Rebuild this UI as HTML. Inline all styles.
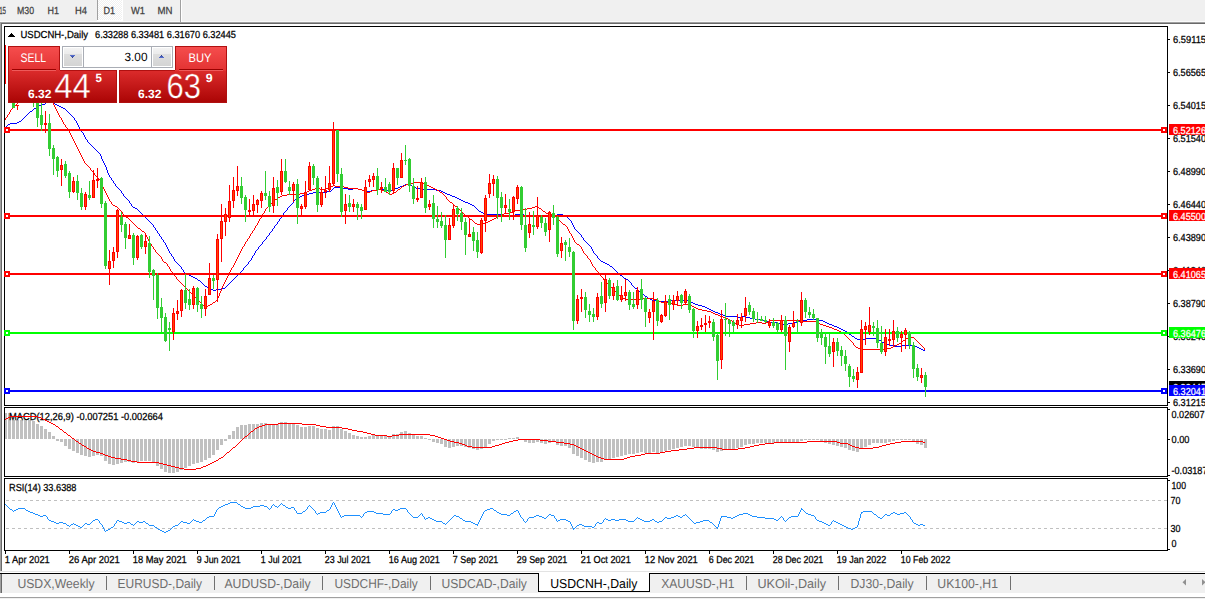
<!DOCTYPE html>
<html><head><meta charset="utf-8"><title>USDCNH-,Daily</title>
<style>html,body{margin:0;padding:0;background:#f0f0f0;overflow:hidden}svg{display:block}text{white-space:pre}</style></head>
<body>
<svg width="1205" height="599" viewBox="0 0 1205 599" font-family='"Liberation Sans", sans-serif' shape-rendering="crispEdges" text-rendering="geometricPrecision">
<rect x="0" y="0" width="1205" height="599" fill="#f0f0f0"/>
<rect x="0" y="21" width="1205" height="1" fill="#fafafa"/>
<rect x="0" y="22" width="1205" height="1" fill="#a0a0a0"/>
<rect x="0" y="23" width="1205" height="1" fill="#696969"/>
<rect x="0" y="24" width="1205" height="548" fill="#ffffff"/>
<rect x="0" y="22" width="1" height="550" fill="#a0a0a0"/>
<rect x="1" y="23" width="1" height="548" fill="#696969"/>
<rect x="0" y="571" width="1205" height="1" fill="#e3e3e3"/>
<rect x="2" y="572" width="1205" height="1" fill="#ffffff"/>
<rect x="0" y="573" width="1205" height="1" fill="#000000"/>
<rect x="0" y="574" width="1205" height="19" fill="#f0f0f0"/>
<rect x="0" y="574" width="1" height="19" fill="#a0a0a0"/>
<rect x="1" y="574" width="1" height="19" fill="#696969"/>
<rect x="0" y="593" width="1205" height="4" fill="#ffffff"/>
<rect x="0" y="597" width="1205" height="1" fill="#a0a0a0"/>
<rect x="0" y="598" width="1205" height="1" fill="#f0f0f0"/>
<text x="-6" y="14" font-size="10.3" fill="#404040" textLength="12" lengthAdjust="spacingAndGlyphs" stroke="#404040" stroke-width="0.25">M15</text>
<text x="17" y="14" font-size="10.3" fill="#404040" textLength="17" lengthAdjust="spacingAndGlyphs" stroke="#404040" stroke-width="0.25">M30</text>
<text x="47.5" y="14" font-size="10.3" fill="#404040" textLength="11.5" lengthAdjust="spacingAndGlyphs" stroke="#404040" stroke-width="0.25">H1</text>
<text x="75" y="14" font-size="10.3" fill="#404040" textLength="12" lengthAdjust="spacingAndGlyphs" stroke="#404040" stroke-width="0.25">H4</text>
<defs><pattern id="ck" x="98" y="0" width="2" height="2" patternUnits="userSpaceOnUse"><rect width="2" height="2" fill="#f0f0f0"/><rect width="1" height="1" fill="#fff"/><rect x="1" y="1" width="1" height="1" fill="#fff"/></pattern></defs>
<rect x="97" y="0" width="1" height="20" fill="#a0a0a0"/>
<rect x="98" y="0" width="24" height="20" fill="url(#ck)"/>
<rect x="122" y="0" width="1" height="21" fill="#ffffff"/>
<rect x="97" y="20" width="26" height="1" fill="#ffffff"/>
<text x="103.5" y="14" font-size="10.3" fill="#404040" textLength="11.5" lengthAdjust="spacingAndGlyphs" stroke="#404040" stroke-width="0.25">D1</text>
<text x="131" y="14" font-size="10.3" fill="#404040" textLength="14" lengthAdjust="spacingAndGlyphs" stroke="#404040" stroke-width="0.25">W1</text>
<text x="157.5" y="14" font-size="10.3" fill="#404040" textLength="15" lengthAdjust="spacingAndGlyphs" stroke="#404040" stroke-width="0.25">MN</text>
<rect x="180" y="0" width="1" height="22" fill="#a0a0a0"/>
<rect x="181" y="0" width="1" height="22" fill="#ffffff"/>
<defs><clipPath id="cm"><rect x="5" y="27" width="1162" height="378"/></clipPath><clipPath id="cd"><rect x="5" y="408" width="1162" height="68"/></clipPath><clipPath id="cr"><rect x="5" y="479" width="1162" height="71"/></clipPath><linearGradient id="gs" x1="0" y1="0" x2="0" y2="1"><stop offset="0" stop-color="#f64e4e"/><stop offset="1" stop-color="#e23232"/></linearGradient><linearGradient id="gp" x1="0" y1="0" x2="0" y2="1"><stop offset="0" stop-color="#dc2c2c"/><stop offset="1" stop-color="#aa0404"/></linearGradient><linearGradient id="gpu" gradientUnits="userSpaceOnUse" x1="0" y1="70" x2="0" y2="103"><stop offset="0" stop-color="#dc2c2c"/><stop offset="1" stop-color="#aa0404"/></linearGradient><linearGradient id="gb" x1="0" y1="0" x2="0" y2="1"><stop offset="0" stop-color="#f3f3f3"/><stop offset="0.33" stop-color="#ebebeb"/><stop offset="0.33" stop-color="#dedede"/><stop offset="1" stop-color="#d4d4d4"/></linearGradient></defs>
<g clip-path="url(#cm)">
<path d="M49 100.5h2M47 101.5h2M51 101.5h1M46 102.5h1M52 102.5h1M45 103.5h1M53 103.5h2M42 104.5h3M55 104.5h2M39 105.5h3M57 105.5h2M37 106.5h2M59 106.5h2M36 107.5h1M61 107.5h2M34 108.5h2M63 108.5h2M33 109.5h1M65 109.5h1M32 110.5h1M66 110.5h1M30 111.5h2M67 111.5h1M29 112.5h1M68 112.5h1M28 113.5h1M69 113.5h1M27 114.5h1M70 114.5h1M26 115.5h1M71 115.5h1M25 116.5h1M72 116.5h1M24 117.5h1M73 117.5h1M23 118.5h1M74 118.5h1M22 119.5h1M74 119.5h1M21 120.5h1M75 120.5h1M19 121.5h2M76 121.5h1M17 122.5h2M76 122.5h1M10 123.5h7M77 123.5h1M8 124.5h2M77 124.5h1M7 125.5h1M78 125.5h1M6 126.5h1M78 126.5h1M79 127.5h1M79 128.5h1M80 129.5h1M81 130.5h1M81 131.5h1M82 132.5h1M83 133.5h1M83 134.5h1M84 135.5h1M84 136.5h1M85 137.5h1M85 138.5h1M86 139.5h1M87 140.5h1M87 141.5h1M88 142.5h1M89 143.5h1M90 144.5h1M91 145.5h1M92 146.5h1M93 147.5h1M94 148.5h1M95 149.5h1M96 150.5h1M97 151.5h1M98 152.5h1M99 153.5h1M100 154.5h1M100 155.5h1M101 156.5h1M101 157.5h1M101 158.5h1M102 159.5h1M102 160.5h1M103 161.5h1M103 162.5h1M104 163.5h1M104 164.5h1M105 165.5h1M105 166.5h1M106 167.5h1M106 168.5h1M106 169.5h1M107 170.5h1M107 171.5h1M107 172.5h1M108 173.5h1M108 174.5h1M109 175.5h1M109 176.5h1M110 177.5h1M111 178.5h1M111 179.5h1M112 180.5h1M113 181.5h1M113 182.5h1M114 183.5h1M115 184.5h1M405 184.5h4M115 185.5h1M403 185.5h2M409 185.5h3M116 186.5h1M400 186.5h3M412 186.5h2M117 187.5h1M334 187.5h9M398 187.5h2M414 187.5h2M118 188.5h1M333 188.5h1M343 188.5h5M353 188.5h5M395 188.5h3M416 188.5h4M119 189.5h1M332 189.5h1M348 189.5h5M358 189.5h4M377 189.5h8M393 189.5h2M420 189.5h16M120 190.5h1M331 190.5h1M362 190.5h4M371 190.5h6M385 190.5h8M436 190.5h5M121 191.5h1M327 191.5h4M366 191.5h5M441 191.5h2M121 192.5h1M313 192.5h14M443 192.5h2M122 193.5h1M309 193.5h4M445 193.5h2M123 194.5h1M305 194.5h4M447 194.5h3M123 195.5h1M302 195.5h3M450 195.5h2M124 196.5h1M300 196.5h2M452 196.5h3M125 197.5h1M298 197.5h2M455 197.5h2M126 198.5h1M296 198.5h2M457 198.5h2M127 199.5h1M295 199.5h1M459 199.5h2M128 200.5h1M294 200.5h1M461 200.5h2M129 201.5h1M293 201.5h1M463 201.5h2M129 202.5h1M293 202.5h1M465 202.5h3M130 203.5h1M292 203.5h1M468 203.5h2M131 204.5h1M291 204.5h1M470 204.5h2M131 205.5h1M290 205.5h1M472 205.5h2M132 206.5h1M289 206.5h1M474 206.5h1M133 207.5h2M288 207.5h1M475 207.5h1M135 208.5h2M287 208.5h1M476 208.5h1M137 209.5h1M287 209.5h1M477 209.5h1M138 210.5h1M286 210.5h1M478 210.5h1M139 211.5h1M285 211.5h1M479 211.5h2M140 212.5h1M284 212.5h1M481 212.5h2M141 213.5h1M283 213.5h1M483 213.5h4M142 214.5h1M283 214.5h1M487 214.5h14M515 214.5h9M557 214.5h6M143 215.5h1M282 215.5h1M501 215.5h14M524 215.5h33M563 215.5h2M144 216.5h1M281 216.5h1M565 216.5h2M145 217.5h1M281 217.5h1M567 217.5h1M146 218.5h1M280 218.5h1M568 218.5h1M147 219.5h1M279 219.5h1M569 219.5h1M148 220.5h1M279 220.5h1M570 220.5h1M149 221.5h1M278 221.5h1M571 221.5h1M150 222.5h1M277 222.5h1M571 222.5h1M151 223.5h1M277 223.5h1M572 223.5h1M152 224.5h1M276 224.5h1M572 224.5h1M153 225.5h1M275 225.5h1M573 225.5h1M153 226.5h1M274 226.5h1M573 226.5h1M154 227.5h1M274 227.5h1M574 227.5h1M155 228.5h1M273 228.5h1M574 228.5h1M155 229.5h1M272 229.5h1M575 229.5h1M156 230.5h1M272 230.5h1M576 230.5h1M157 231.5h1M271 231.5h1M577 231.5h1M157 232.5h1M270 232.5h1M578 232.5h1M158 233.5h1M269 233.5h1M579 233.5h1M159 234.5h1M269 234.5h1M580 234.5h1M159 235.5h1M268 235.5h1M581 235.5h1M160 236.5h1M267 236.5h1M581 236.5h1M161 237.5h1M266 237.5h1M582 237.5h1M161 238.5h1M266 238.5h1M583 238.5h1M162 239.5h1M265 239.5h1M583 239.5h1M163 240.5h1M264 240.5h1M584 240.5h1M163 241.5h1M263 241.5h1M585 241.5h1M164 242.5h1M262 242.5h1M586 242.5h1M165 243.5h1M262 243.5h1M587 243.5h1M165 244.5h1M261 244.5h1M588 244.5h1M166 245.5h1M260 245.5h1M589 245.5h1M166 246.5h1M259 246.5h1M590 246.5h1M167 247.5h1M258 247.5h1M591 247.5h1M167 248.5h1M258 248.5h1M591 248.5h1M168 249.5h1M257 249.5h1M592 249.5h1M168 250.5h1M256 250.5h1M592 250.5h1M169 251.5h1M255 251.5h1M593 251.5h1M169 252.5h1M255 252.5h1M593 252.5h1M170 253.5h1M254 253.5h1M594 253.5h1M171 254.5h1M254 254.5h1M595 254.5h1M171 255.5h1M253 255.5h1M596 255.5h1M172 256.5h1M252 256.5h1M597 256.5h1M173 257.5h1M252 257.5h1M597 257.5h1M173 258.5h1M251 258.5h1M598 258.5h1M174 259.5h1M251 259.5h1M599 259.5h1M174 260.5h1M250 260.5h1M600 260.5h1M175 261.5h1M249 261.5h1M601 261.5h2M176 262.5h1M248 262.5h1M603 262.5h2M177 263.5h1M248 263.5h1M605 263.5h2M178 264.5h1M247 264.5h1M607 264.5h2M179 265.5h1M246 265.5h1M609 265.5h1M180 266.5h1M245 266.5h1M610 266.5h2M181 267.5h1M244 267.5h1M612 267.5h1M181 268.5h1M243 268.5h1M613 268.5h1M182 269.5h1M243 269.5h1M614 269.5h1M183 270.5h1M242 270.5h1M615 270.5h1M183 271.5h1M241 271.5h1M616 271.5h1M184 272.5h1M240 272.5h1M617 272.5h1M185 273.5h2M239 273.5h1M618 273.5h1M187 274.5h2M238 274.5h1M619 274.5h1M189 275.5h2M237 275.5h1M620 275.5h2M191 276.5h2M236 276.5h1M622 276.5h1M193 277.5h2M235 277.5h1M623 277.5h1M195 278.5h2M234 278.5h1M624 278.5h2M197 279.5h1M233 279.5h1M626 279.5h2M198 280.5h2M232 280.5h1M628 280.5h1M200 281.5h1M231 281.5h1M629 281.5h1M201 282.5h1M230 282.5h1M630 282.5h1M202 283.5h1M229 283.5h1M631 283.5h1M203 284.5h1M228 284.5h1M631 284.5h1M204 285.5h1M227 285.5h1M632 285.5h1M205 286.5h2M226 286.5h1M633 286.5h1M207 287.5h2M225 287.5h1M634 287.5h1M209 288.5h2M221 288.5h4M635 288.5h2M211 289.5h2M216 289.5h5M637 289.5h1M213 290.5h3M638 290.5h1M639 291.5h1M640 292.5h2M642 293.5h1M643 294.5h1M644 295.5h1M645 296.5h2M647 297.5h1M648 298.5h2M650 299.5h2M652 300.5h5M670 300.5h18M657 301.5h13M688 301.5h2M690 302.5h3M693 303.5h2M695 304.5h3M698 305.5h4M702 306.5h3M705 307.5h2M707 308.5h2M709 309.5h2M711 310.5h2M713 311.5h2M715 312.5h3M718 313.5h2M720 314.5h3M723 315.5h2M725 316.5h12M742 316.5h4M737 317.5h5M746 317.5h4M750 318.5h5M755 319.5h6M807 319.5h9M761 320.5h4M802 320.5h5M816 320.5h7M765 321.5h5M798 321.5h4M823 321.5h2M770 322.5h7M793 322.5h5M825 322.5h2M777 323.5h6M788 323.5h5M827 323.5h2M783 324.5h5M829 324.5h3M832 325.5h2M834 326.5h3M837 327.5h2M839 328.5h2M841 329.5h2M843 330.5h2M845 331.5h2M847 332.5h1M848 333.5h1M849 334.5h2M851 335.5h1M852 336.5h2M854 337.5h1M855 338.5h2M866 338.5h10M857 339.5h9M876 339.5h3M879 340.5h2M881 341.5h1M882 342.5h2M884 343.5h2M886 344.5h4M890 345.5h5M902 345.5h13M895 346.5h7M915 346.5h2M917 347.5h2M919 348.5h2M921 349.5h2M923 350.5h2" fill="none" stroke="#0000ff" stroke-width="1"/>
<path d="M33 94.5h4M31 95.5h2M37 95.5h5M28 96.5h3M42 96.5h3M26 97.5h2M45 97.5h1M24 98.5h2M46 98.5h2M22 99.5h2M48 99.5h1M21 100.5h1M49 100.5h1M20 101.5h1M50 101.5h2M18 102.5h2M52 102.5h1M17 103.5h1M53 103.5h1M16 104.5h1M53 104.5h1M15 105.5h1M54 105.5h1M14 106.5h1M54 106.5h1M13 107.5h1M55 107.5h1M12 108.5h1M55 108.5h1M11 109.5h1M56 109.5h1M10 110.5h1M56 110.5h1M10 111.5h1M57 111.5h1M9 112.5h1M57 112.5h1M9 113.5h1M58 113.5h1M8 114.5h1M58 114.5h1M7 115.5h1M59 115.5h1M7 116.5h1M59 116.5h1M6 117.5h1M60 117.5h1M5 118.5h1M61 118.5h1M5 119.5h1M61 119.5h1M4 120.5h1M62 120.5h1M62 121.5h1M63 122.5h1M63 123.5h1M64 124.5h1M65 125.5h1M65 126.5h1M66 127.5h1M67 128.5h1M67 129.5h1M68 130.5h1M69 131.5h1M69 132.5h1M70 133.5h1M70 134.5h1M71 135.5h1M71 136.5h1M72 137.5h1M72 138.5h1M73 139.5h1M73 140.5h1M74 141.5h1M74 142.5h1M75 143.5h1M75 144.5h1M76 145.5h1M76 146.5h1M77 147.5h1M77 148.5h1M78 149.5h1M78 150.5h1M79 151.5h1M79 152.5h1M80 153.5h1M80 154.5h1M81 155.5h1M81 156.5h1M82 157.5h1M82 158.5h1M83 159.5h1M83 160.5h1M84 161.5h1M84 162.5h1M85 163.5h1M86 164.5h1M87 165.5h1M88 166.5h1M89 167.5h1M90 168.5h1M90 169.5h1M91 170.5h1M92 171.5h1M93 172.5h1M94 173.5h1M94 174.5h1M95 175.5h1M96 176.5h1M97 177.5h1M98 178.5h1M99 179.5h1M100 180.5h1M100 181.5h1M101 182.5h1M414 182.5h9M101 183.5h1M409 183.5h5M423 183.5h2M102 184.5h1M406 184.5h3M425 184.5h2M102 185.5h1M333 185.5h2M404 185.5h2M427 185.5h2M102 186.5h1M331 186.5h2M335 186.5h9M402 186.5h2M429 186.5h2M103 187.5h1M329 187.5h2M344 187.5h4M401 187.5h1M431 187.5h2M103 188.5h1M315 188.5h5M326 188.5h3M348 188.5h10M400 188.5h1M433 188.5h2M104 189.5h1M312 189.5h3M320 189.5h6M358 189.5h4M377 189.5h5M398 189.5h2M435 189.5h2M104 190.5h1M309 190.5h3M362 190.5h3M372 190.5h5M382 190.5h3M397 190.5h1M437 190.5h2M105 191.5h1M307 191.5h2M365 191.5h2M370 191.5h2M385 191.5h1M396 191.5h1M439 191.5h1M105 192.5h1M305 192.5h2M367 192.5h3M386 192.5h2M394 192.5h2M440 192.5h2M106 193.5h1M300 193.5h5M388 193.5h2M392 193.5h2M442 193.5h1M106 194.5h1M287 194.5h13M390 194.5h2M443 194.5h1M107 195.5h1M282 195.5h5M444 195.5h1M107 196.5h1M280 196.5h2M445 196.5h1M108 197.5h1M278 197.5h2M446 197.5h1M108 198.5h1M277 198.5h1M446 198.5h1M109 199.5h1M275 199.5h2M447 199.5h1M109 200.5h1M274 200.5h1M448 200.5h1M110 201.5h1M273 201.5h1M449 201.5h1M111 202.5h1M272 202.5h1M450 202.5h2M111 203.5h1M271 203.5h1M452 203.5h1M112 204.5h1M270 204.5h1M453 204.5h1M113 205.5h2M269 205.5h1M454 205.5h1M115 206.5h2M268 206.5h1M455 206.5h2M535 206.5h2M117 207.5h1M267 207.5h1M457 207.5h1M532 207.5h3M537 207.5h2M118 208.5h1M266 208.5h1M458 208.5h1M527 208.5h5M539 208.5h2M119 209.5h1M265 209.5h1M459 209.5h1M520 209.5h7M541 209.5h1M120 210.5h1M265 210.5h1M460 210.5h1M515 210.5h5M542 210.5h1M121 211.5h1M264 211.5h1M461 211.5h1M513 211.5h2M543 211.5h2M122 212.5h1M264 212.5h1M462 212.5h1M509 212.5h4M545 212.5h1M122 213.5h1M263 213.5h1M463 213.5h1M504 213.5h5M546 213.5h3M123 214.5h1M262 214.5h1M464 214.5h1M501 214.5h3M549 214.5h3M124 215.5h1M262 215.5h1M465 215.5h2M499 215.5h2M552 215.5h2M125 216.5h1M261 216.5h1M467 216.5h1M497 216.5h2M554 216.5h2M126 217.5h2M261 217.5h1M468 217.5h1M496 217.5h1M556 217.5h1M128 218.5h1M260 218.5h1M469 218.5h1M494 218.5h2M557 218.5h1M129 219.5h1M259 219.5h1M470 219.5h2M492 219.5h2M558 219.5h1M130 220.5h1M259 220.5h1M472 220.5h1M490 220.5h2M559 220.5h1M131 221.5h1M258 221.5h1M473 221.5h1M488 221.5h2M560 221.5h1M132 222.5h1M258 222.5h1M474 222.5h1M485 222.5h3M561 222.5h1M133 223.5h1M257 223.5h1M475 223.5h2M483 223.5h2M562 223.5h1M134 224.5h1M257 224.5h1M477 224.5h6M563 224.5h2M135 225.5h1M256 225.5h1M565 225.5h1M136 226.5h1M255 226.5h1M566 226.5h1M137 227.5h1M255 227.5h1M567 227.5h1M138 228.5h2M254 228.5h1M567 228.5h1M140 229.5h1M254 229.5h1M568 229.5h1M141 230.5h1M253 230.5h1M568 230.5h1M142 231.5h2M252 231.5h1M569 231.5h1M144 232.5h1M252 232.5h1M569 232.5h1M145 233.5h1M251 233.5h1M570 233.5h1M145 234.5h1M250 234.5h1M571 234.5h1M146 235.5h1M250 235.5h1M571 235.5h1M146 236.5h1M249 236.5h1M572 236.5h1M147 237.5h1M249 237.5h1M572 237.5h1M147 238.5h1M248 238.5h1M573 238.5h1M148 239.5h1M247 239.5h1M573 239.5h1M148 240.5h1M247 240.5h1M574 240.5h1M149 241.5h1M246 241.5h1M574 241.5h1M149 242.5h1M245 242.5h1M575 242.5h1M150 243.5h1M245 243.5h1M576 243.5h1M151 244.5h1M244 244.5h1M577 244.5h2M151 245.5h1M244 245.5h1M579 245.5h1M152 246.5h1M243 246.5h1M580 246.5h1M153 247.5h1M242 247.5h1M581 247.5h1M153 248.5h1M242 248.5h1M581 248.5h1M154 249.5h1M241 249.5h1M582 249.5h1M155 250.5h1M241 250.5h1M582 250.5h1M155 251.5h1M240 251.5h1M583 251.5h1M156 252.5h1M240 252.5h1M583 252.5h1M157 253.5h1M239 253.5h1M584 253.5h1M158 254.5h1M239 254.5h1M585 254.5h1M159 255.5h1M238 255.5h1M586 255.5h1M160 256.5h1M238 256.5h1M587 256.5h1M161 257.5h1M237 257.5h1M587 257.5h1M161 258.5h1M237 258.5h1M588 258.5h1M162 259.5h1M236 259.5h1M589 259.5h1M162 260.5h1M236 260.5h1M590 260.5h1M163 261.5h1M235 261.5h1M590 261.5h1M164 262.5h2M235 262.5h1M591 262.5h1M166 263.5h1M234 263.5h1M591 263.5h1M167 264.5h1M234 264.5h1M592 264.5h1M167 265.5h1M233 265.5h1M592 265.5h1M168 266.5h1M233 266.5h1M593 266.5h1M169 267.5h1M232 267.5h1M594 267.5h1M169 268.5h1M231 268.5h1M595 268.5h1M170 269.5h1M231 269.5h1M595 269.5h1M170 270.5h1M230 270.5h1M596 270.5h1M171 271.5h1M230 271.5h1M597 271.5h1M172 272.5h1M229 272.5h1M598 272.5h1M172 273.5h1M229 273.5h1M599 273.5h1M173 274.5h1M228 274.5h1M599 274.5h1M174 275.5h1M228 275.5h1M600 275.5h1M175 276.5h1M227 276.5h1M601 276.5h1M176 277.5h1M227 277.5h1M602 277.5h1M176 278.5h1M226 278.5h1M603 278.5h1M177 279.5h1M226 279.5h1M603 279.5h1M178 280.5h1M225 280.5h1M604 280.5h1M179 281.5h1M225 281.5h1M605 281.5h1M180 282.5h1M224 282.5h1M606 282.5h1M181 283.5h1M224 283.5h1M607 283.5h1M182 284.5h1M223 284.5h1M608 284.5h1M183 285.5h1M223 285.5h1M609 285.5h1M184 286.5h1M222 286.5h1M610 286.5h1M185 287.5h1M222 287.5h1M611 287.5h1M186 288.5h1M221 288.5h1M612 288.5h1M187 289.5h1M221 289.5h1M613 289.5h1M188 290.5h1M221 290.5h1M614 290.5h1M189 291.5h1M220 291.5h1M615 291.5h1M190 292.5h1M220 292.5h1M616 292.5h1M191 293.5h1M219 293.5h1M617 293.5h1M192 294.5h1M219 294.5h1M618 294.5h1M193 295.5h1M219 295.5h1M619 295.5h1M194 296.5h1M218 296.5h1M620 296.5h1M195 297.5h1M218 297.5h1M621 297.5h2M196 298.5h1M217 298.5h1M623 298.5h2M641 298.5h13M197 299.5h1M217 299.5h1M625 299.5h16M654 299.5h3M198 300.5h1M216 300.5h1M657 300.5h2M199 301.5h1M215 301.5h1M659 301.5h2M200 302.5h1M213 302.5h2M661 302.5h7M201 303.5h1M212 303.5h1M668 303.5h4M202 304.5h1M210 304.5h2M672 304.5h5M683 304.5h6M203 305.5h2M208 305.5h2M677 305.5h6M689 305.5h3M205 306.5h3M692 306.5h2M694 307.5h2M696 308.5h2M698 309.5h4M702 310.5h5M707 311.5h4M711 312.5h2M713 313.5h2M715 314.5h3M718 315.5h2M720 316.5h3M723 317.5h2M725 318.5h3M728 319.5h2M730 320.5h2M770 320.5h30M732 321.5h1M768 321.5h2M800 321.5h16M733 322.5h2M756 322.5h6M766 322.5h2M816 322.5h2M735 323.5h1M750 323.5h6M762 323.5h4M818 323.5h2M736 324.5h3M744 324.5h6M820 324.5h3M739 325.5h5M823 325.5h3M826 326.5h3M829 327.5h3M832 328.5h2M834 329.5h3M837 330.5h2M839 331.5h2M841 332.5h1M842 333.5h2M844 334.5h1M845 335.5h1M846 336.5h1M847 337.5h1M910 337.5h4M848 338.5h1M906 338.5h4M914 338.5h1M849 339.5h1M905 339.5h1M915 339.5h1M850 340.5h1M903 340.5h2M916 340.5h1M851 341.5h1M902 341.5h1M917 341.5h1M852 342.5h1M901 342.5h1M918 342.5h1M853 343.5h1M899 343.5h2M919 343.5h1M853 344.5h1M897 344.5h2M920 344.5h1M854 345.5h1M895 345.5h2M921 345.5h1M855 346.5h1M893 346.5h2M922 346.5h1M856 347.5h2M891 347.5h2M923 347.5h1M858 348.5h4M887 348.5h4M924 348.5h1M862 349.5h25M924 349.5h1" fill="none" stroke="#ff0000" stroke-width="1"/>
<rect x="5" y="129" width="1162" height="2" fill="#ff0000"/>
<rect x="5" y="215" width="1162" height="2" fill="#ff0000"/>
<rect x="5" y="273" width="1162" height="2" fill="#ff0000"/>
<rect x="5" y="332" width="1162" height="2" fill="#00ff00"/>
<rect x="5" y="390" width="1162" height="2" fill="#0000ff"/>
<rect x="5" y="45" width="1" height="39" fill="#ff0000"/>
<rect x="9" y="60" width="1" height="35" fill="#32cd32"/>
<rect x="8" y="65" width="3" height="25" fill="#32cd32"/>
<rect x="13" y="88" width="1" height="20" fill="#32cd32"/>
<rect x="12" y="92" width="3" height="16" fill="#32cd32"/>
<rect x="17" y="105" width="1" height="5" fill="#ff0000"/>
<rect x="16" y="105" width="3" height="1" fill="#ff0000"/>
<rect x="21" y="70" width="1" height="30" fill="#ff0000"/>
<rect x="20" y="75" width="3" height="20" fill="#ff0000"/>
<rect x="21" y="76" width="1" height="18" fill="#ff4500"/>
<rect x="25" y="70" width="1" height="30" fill="#32cd32"/>
<rect x="24" y="75" width="3" height="20" fill="#32cd32"/>
<rect x="29" y="70" width="1" height="30" fill="#ff0000"/>
<rect x="28" y="75" width="3" height="20" fill="#ff0000"/>
<rect x="29" y="76" width="1" height="18" fill="#ff4500"/>
<rect x="33" y="85" width="1" height="22" fill="#32cd32"/>
<rect x="32" y="88" width="3" height="12" fill="#32cd32"/>
<rect x="37" y="85" width="1" height="42" fill="#32cd32"/>
<rect x="36" y="90" width="3" height="28" fill="#32cd32"/>
<rect x="41" y="100" width="1" height="31" fill="#32cd32"/>
<rect x="40" y="115" width="3" height="10" fill="#32cd32"/>
<rect x="45" y="111" width="1" height="22" fill="#ff0000"/>
<rect x="44" y="123" width="3" height="2" fill="#ff0000"/>
<rect x="49" y="114" width="1" height="42" fill="#32cd32"/>
<rect x="48" y="123" width="3" height="26" fill="#32cd32"/>
<rect x="53" y="145" width="1" height="30" fill="#32cd32"/>
<rect x="52" y="148" width="3" height="11" fill="#32cd32"/>
<rect x="57" y="156" width="1" height="21" fill="#32cd32"/>
<rect x="56" y="157" width="3" height="14" fill="#32cd32"/>
<rect x="61" y="159" width="1" height="27" fill="#ff0000"/>
<rect x="60" y="165" width="3" height="5" fill="#ff0000"/>
<rect x="61" y="166" width="1" height="3" fill="#ff4500"/>
<rect x="65" y="161" width="1" height="17" fill="#32cd32"/>
<rect x="64" y="164" width="3" height="12" fill="#32cd32"/>
<rect x="69" y="171" width="1" height="27" fill="#32cd32"/>
<rect x="68" y="173" width="3" height="19" fill="#32cd32"/>
<rect x="73" y="177" width="1" height="16" fill="#ff0000"/>
<rect x="72" y="181" width="3" height="11" fill="#ff0000"/>
<rect x="73" y="182" width="1" height="9" fill="#ff4500"/>
<rect x="77" y="175" width="1" height="25" fill="#32cd32"/>
<rect x="76" y="181" width="3" height="12" fill="#32cd32"/>
<rect x="81" y="188" width="1" height="22" fill="#32cd32"/>
<rect x="80" y="193" width="3" height="14" fill="#32cd32"/>
<rect x="85" y="192" width="1" height="18" fill="#ff0000"/>
<rect x="84" y="194" width="3" height="13" fill="#ff0000"/>
<rect x="85" y="195" width="1" height="11" fill="#ff4500"/>
<rect x="89" y="181" width="1" height="19" fill="#32cd32"/>
<rect x="88" y="195" width="3" height="3" fill="#32cd32"/>
<rect x="93" y="170" width="1" height="28" fill="#ff0000"/>
<rect x="92" y="180" width="3" height="18" fill="#ff0000"/>
<rect x="93" y="181" width="1" height="16" fill="#ff4500"/>
<rect x="97" y="168" width="1" height="20" fill="#ff0000"/>
<rect x="96" y="179" width="3" height="2" fill="#ff0000"/>
<rect x="101" y="177" width="1" height="31" fill="#32cd32"/>
<rect x="100" y="178" width="3" height="26" fill="#32cd32"/>
<rect x="105" y="201" width="1" height="68" fill="#32cd32"/>
<rect x="104" y="203" width="3" height="63" fill="#32cd32"/>
<rect x="109" y="250" width="1" height="35" fill="#ff0000"/>
<rect x="108" y="261" width="3" height="8" fill="#ff0000"/>
<rect x="109" y="262" width="1" height="6" fill="#ff4500"/>
<rect x="113" y="247" width="1" height="21" fill="#ff0000"/>
<rect x="112" y="252" width="3" height="9" fill="#ff0000"/>
<rect x="113" y="253" width="1" height="7" fill="#ff4500"/>
<rect x="117" y="209" width="1" height="49" fill="#ff0000"/>
<rect x="116" y="210" width="3" height="42" fill="#ff0000"/>
<rect x="117" y="211" width="1" height="40" fill="#ff4500"/>
<rect x="121" y="212" width="1" height="20" fill="#32cd32"/>
<rect x="120" y="217" width="3" height="8" fill="#32cd32"/>
<rect x="125" y="222" width="1" height="27" fill="#32cd32"/>
<rect x="124" y="224" width="3" height="14" fill="#32cd32"/>
<rect x="129" y="224" width="1" height="15" fill="#ff0000"/>
<rect x="128" y="235" width="3" height="4" fill="#ff0000"/>
<rect x="129" y="236" width="1" height="2" fill="#ff4500"/>
<rect x="133" y="233" width="1" height="32" fill="#32cd32"/>
<rect x="132" y="235" width="3" height="23" fill="#32cd32"/>
<rect x="137" y="235" width="1" height="25" fill="#ff0000"/>
<rect x="136" y="236" width="3" height="22" fill="#ff0000"/>
<rect x="137" y="237" width="1" height="20" fill="#ff4500"/>
<rect x="141" y="234" width="1" height="15" fill="#32cd32"/>
<rect x="140" y="235" width="3" height="12" fill="#32cd32"/>
<rect x="145" y="235" width="1" height="19" fill="#ff0000"/>
<rect x="144" y="241" width="3" height="6" fill="#ff0000"/>
<rect x="145" y="242" width="1" height="4" fill="#ff4500"/>
<rect x="149" y="236" width="1" height="42" fill="#32cd32"/>
<rect x="148" y="243" width="3" height="29" fill="#32cd32"/>
<rect x="153" y="269" width="1" height="31" fill="#32cd32"/>
<rect x="152" y="270" width="3" height="6" fill="#32cd32"/>
<rect x="157" y="273" width="1" height="46" fill="#32cd32"/>
<rect x="156" y="275" width="3" height="33" fill="#32cd32"/>
<rect x="161" y="298" width="1" height="34" fill="#32cd32"/>
<rect x="160" y="307" width="3" height="11" fill="#32cd32"/>
<rect x="165" y="313" width="1" height="29" fill="#32cd32"/>
<rect x="164" y="317" width="3" height="24" fill="#32cd32"/>
<rect x="169" y="322" width="1" height="29" fill="#32cd32"/>
<rect x="168" y="328" width="3" height="2" fill="#32cd32"/>
<rect x="173" y="308" width="1" height="32" fill="#ff0000"/>
<rect x="172" y="313" width="3" height="19" fill="#ff0000"/>
<rect x="173" y="314" width="1" height="17" fill="#ff4500"/>
<rect x="177" y="300" width="1" height="20" fill="#ff0000"/>
<rect x="176" y="311" width="3" height="3" fill="#ff0000"/>
<rect x="177" y="312" width="1" height="1" fill="#ff4500"/>
<rect x="181" y="289" width="1" height="28" fill="#ff0000"/>
<rect x="180" y="290" width="3" height="21" fill="#ff0000"/>
<rect x="181" y="291" width="1" height="19" fill="#ff4500"/>
<rect x="185" y="274" width="1" height="35" fill="#32cd32"/>
<rect x="184" y="290" width="3" height="13" fill="#32cd32"/>
<rect x="189" y="289" width="1" height="21" fill="#32cd32"/>
<rect x="188" y="299" width="3" height="6" fill="#32cd32"/>
<rect x="193" y="286" width="1" height="23" fill="#ff0000"/>
<rect x="192" y="288" width="3" height="17" fill="#ff0000"/>
<rect x="193" y="289" width="1" height="15" fill="#ff4500"/>
<rect x="197" y="287" width="1" height="25" fill="#32cd32"/>
<rect x="196" y="288" width="3" height="17" fill="#32cd32"/>
<rect x="201" y="296" width="1" height="22" fill="#32cd32"/>
<rect x="200" y="304" width="3" height="5" fill="#32cd32"/>
<rect x="205" y="289" width="1" height="27" fill="#ff0000"/>
<rect x="204" y="296" width="3" height="13" fill="#ff0000"/>
<rect x="205" y="297" width="1" height="11" fill="#ff4500"/>
<rect x="209" y="263" width="1" height="32" fill="#ff0000"/>
<rect x="208" y="278" width="3" height="17" fill="#ff0000"/>
<rect x="209" y="279" width="1" height="15" fill="#ff4500"/>
<rect x="213" y="275" width="1" height="14" fill="#32cd32"/>
<rect x="212" y="278" width="3" height="3" fill="#32cd32"/>
<rect x="217" y="234" width="1" height="68" fill="#ff0000"/>
<rect x="216" y="239" width="3" height="41" fill="#ff0000"/>
<rect x="217" y="240" width="1" height="39" fill="#ff4500"/>
<rect x="221" y="204" width="1" height="58" fill="#ff0000"/>
<rect x="220" y="221" width="3" height="18" fill="#ff0000"/>
<rect x="221" y="222" width="1" height="16" fill="#ff4500"/>
<rect x="225" y="208" width="1" height="28" fill="#ff0000"/>
<rect x="224" y="214" width="3" height="8" fill="#ff0000"/>
<rect x="225" y="215" width="1" height="6" fill="#ff4500"/>
<rect x="229" y="185" width="1" height="37" fill="#ff0000"/>
<rect x="228" y="201" width="3" height="17" fill="#ff0000"/>
<rect x="229" y="202" width="1" height="15" fill="#ff4500"/>
<rect x="233" y="177" width="1" height="31" fill="#ff0000"/>
<rect x="232" y="190" width="3" height="11" fill="#ff0000"/>
<rect x="233" y="191" width="1" height="9" fill="#ff4500"/>
<rect x="237" y="166" width="1" height="30" fill="#ff0000"/>
<rect x="236" y="186" width="3" height="5" fill="#ff0000"/>
<rect x="237" y="187" width="1" height="3" fill="#ff4500"/>
<rect x="241" y="177" width="1" height="27" fill="#32cd32"/>
<rect x="240" y="186" width="3" height="12" fill="#32cd32"/>
<rect x="245" y="195" width="1" height="27" fill="#32cd32"/>
<rect x="244" y="197" width="3" height="13" fill="#32cd32"/>
<rect x="249" y="199" width="1" height="16" fill="#ff0000"/>
<rect x="248" y="210" width="3" height="2" fill="#ff0000"/>
<rect x="253" y="195" width="1" height="20" fill="#ff0000"/>
<rect x="252" y="204" width="3" height="7" fill="#ff0000"/>
<rect x="253" y="205" width="1" height="5" fill="#ff4500"/>
<rect x="257" y="199" width="1" height="14" fill="#ff0000"/>
<rect x="256" y="200" width="3" height="5" fill="#ff0000"/>
<rect x="257" y="201" width="1" height="3" fill="#ff4500"/>
<rect x="261" y="191" width="1" height="17" fill="#ff0000"/>
<rect x="260" y="193" width="3" height="8" fill="#ff0000"/>
<rect x="261" y="194" width="1" height="6" fill="#ff4500"/>
<rect x="265" y="171" width="1" height="29" fill="#32cd32"/>
<rect x="264" y="193" width="3" height="3" fill="#32cd32"/>
<rect x="269" y="191" width="1" height="21" fill="#32cd32"/>
<rect x="268" y="196" width="3" height="11" fill="#32cd32"/>
<rect x="273" y="177" width="1" height="36" fill="#ff0000"/>
<rect x="272" y="188" width="3" height="18" fill="#ff0000"/>
<rect x="273" y="189" width="1" height="16" fill="#ff4500"/>
<rect x="277" y="180" width="1" height="26" fill="#32cd32"/>
<rect x="276" y="187" width="3" height="6" fill="#32cd32"/>
<rect x="281" y="159" width="1" height="36" fill="#ff0000"/>
<rect x="280" y="171" width="3" height="21" fill="#ff0000"/>
<rect x="281" y="172" width="1" height="19" fill="#ff4500"/>
<rect x="285" y="159" width="1" height="24" fill="#32cd32"/>
<rect x="284" y="171" width="3" height="11" fill="#32cd32"/>
<rect x="289" y="181" width="1" height="14" fill="#32cd32"/>
<rect x="288" y="187" width="3" height="4" fill="#32cd32"/>
<rect x="293" y="182" width="1" height="20" fill="#ff0000"/>
<rect x="292" y="184" width="3" height="7" fill="#ff0000"/>
<rect x="293" y="185" width="1" height="5" fill="#ff4500"/>
<rect x="297" y="179" width="1" height="45" fill="#32cd32"/>
<rect x="296" y="184" width="3" height="24" fill="#32cd32"/>
<rect x="301" y="204" width="1" height="11" fill="#ff0000"/>
<rect x="300" y="206" width="3" height="3" fill="#ff0000"/>
<rect x="301" y="207" width="1" height="1" fill="#ff4500"/>
<rect x="305" y="181" width="1" height="28" fill="#ff0000"/>
<rect x="304" y="192" width="3" height="15" fill="#ff0000"/>
<rect x="305" y="193" width="1" height="13" fill="#ff4500"/>
<rect x="309" y="162" width="1" height="29" fill="#ff0000"/>
<rect x="308" y="166" width="3" height="24" fill="#ff0000"/>
<rect x="309" y="167" width="1" height="22" fill="#ff4500"/>
<rect x="313" y="164" width="1" height="21" fill="#32cd32"/>
<rect x="312" y="166" width="3" height="12" fill="#32cd32"/>
<rect x="317" y="176" width="1" height="36" fill="#32cd32"/>
<rect x="316" y="178" width="3" height="27" fill="#32cd32"/>
<rect x="321" y="187" width="1" height="20" fill="#ff0000"/>
<rect x="320" y="192" width="3" height="13" fill="#ff0000"/>
<rect x="321" y="193" width="1" height="11" fill="#ff4500"/>
<rect x="325" y="176" width="1" height="22" fill="#ff0000"/>
<rect x="324" y="190" width="3" height="2" fill="#ff0000"/>
<rect x="329" y="166" width="1" height="26" fill="#ff0000"/>
<rect x="328" y="183" width="3" height="7" fill="#ff0000"/>
<rect x="329" y="184" width="1" height="5" fill="#ff4500"/>
<rect x="333" y="122" width="1" height="63" fill="#ff0000"/>
<rect x="332" y="130" width="3" height="54" fill="#ff0000"/>
<rect x="333" y="131" width="1" height="52" fill="#ff4500"/>
<rect x="337" y="130" width="1" height="52" fill="#32cd32"/>
<rect x="336" y="130" width="3" height="44" fill="#32cd32"/>
<rect x="341" y="168" width="1" height="49" fill="#32cd32"/>
<rect x="340" y="174" width="3" height="38" fill="#32cd32"/>
<rect x="345" y="194" width="1" height="30" fill="#ff0000"/>
<rect x="344" y="204" width="3" height="7" fill="#ff0000"/>
<rect x="345" y="205" width="1" height="5" fill="#ff4500"/>
<rect x="349" y="195" width="1" height="17" fill="#32cd32"/>
<rect x="348" y="203" width="3" height="4" fill="#32cd32"/>
<rect x="353" y="199" width="1" height="13" fill="#ff0000"/>
<rect x="352" y="204" width="3" height="3" fill="#ff0000"/>
<rect x="353" y="205" width="1" height="1" fill="#ff4500"/>
<rect x="357" y="202" width="1" height="18" fill="#32cd32"/>
<rect x="356" y="204" width="3" height="4" fill="#32cd32"/>
<rect x="361" y="204" width="1" height="15" fill="#32cd32"/>
<rect x="360" y="207" width="3" height="4" fill="#32cd32"/>
<rect x="365" y="180" width="1" height="30" fill="#ff0000"/>
<rect x="364" y="187" width="3" height="23" fill="#ff0000"/>
<rect x="365" y="188" width="1" height="21" fill="#ff4500"/>
<rect x="369" y="175" width="1" height="12" fill="#ff0000"/>
<rect x="368" y="179" width="3" height="3" fill="#ff0000"/>
<rect x="369" y="180" width="1" height="1" fill="#ff4500"/>
<rect x="373" y="173" width="1" height="14" fill="#ff0000"/>
<rect x="372" y="176" width="3" height="4" fill="#ff0000"/>
<rect x="373" y="177" width="1" height="2" fill="#ff4500"/>
<rect x="377" y="168" width="1" height="27" fill="#32cd32"/>
<rect x="376" y="176" width="3" height="14" fill="#32cd32"/>
<rect x="381" y="182" width="1" height="11" fill="#ff0000"/>
<rect x="380" y="187" width="3" height="2" fill="#ff0000"/>
<rect x="385" y="178" width="1" height="14" fill="#32cd32"/>
<rect x="384" y="187" width="3" height="5" fill="#32cd32"/>
<rect x="389" y="182" width="1" height="13" fill="#32cd32"/>
<rect x="388" y="184" width="3" height="8" fill="#32cd32"/>
<rect x="393" y="163" width="1" height="31" fill="#ff0000"/>
<rect x="392" y="168" width="3" height="23" fill="#ff0000"/>
<rect x="393" y="169" width="1" height="21" fill="#ff4500"/>
<rect x="397" y="168" width="1" height="17" fill="#32cd32"/>
<rect x="396" y="168" width="3" height="10" fill="#32cd32"/>
<rect x="401" y="153" width="1" height="25" fill="#ff0000"/>
<rect x="400" y="160" width="3" height="18" fill="#ff0000"/>
<rect x="401" y="161" width="1" height="16" fill="#ff4500"/>
<rect x="405" y="145" width="1" height="20" fill="#32cd32"/>
<rect x="404" y="160" width="3" height="1" fill="#32cd32"/>
<rect x="409" y="158" width="1" height="34" fill="#32cd32"/>
<rect x="408" y="159" width="3" height="27" fill="#32cd32"/>
<rect x="413" y="178" width="1" height="26" fill="#32cd32"/>
<rect x="412" y="186" width="3" height="13" fill="#32cd32"/>
<rect x="417" y="186" width="1" height="16" fill="#ff0000"/>
<rect x="416" y="198" width="3" height="2" fill="#ff0000"/>
<rect x="421" y="178" width="1" height="20" fill="#ff0000"/>
<rect x="420" y="182" width="3" height="16" fill="#ff0000"/>
<rect x="421" y="183" width="1" height="14" fill="#ff4500"/>
<rect x="425" y="177" width="1" height="36" fill="#32cd32"/>
<rect x="424" y="182" width="3" height="26" fill="#32cd32"/>
<rect x="429" y="200" width="1" height="10" fill="#ff0000"/>
<rect x="428" y="204" width="3" height="3" fill="#ff0000"/>
<rect x="429" y="205" width="1" height="1" fill="#ff4500"/>
<rect x="433" y="195" width="1" height="33" fill="#32cd32"/>
<rect x="432" y="203" width="3" height="16" fill="#32cd32"/>
<rect x="437" y="206" width="1" height="22" fill="#32cd32"/>
<rect x="436" y="219" width="3" height="3" fill="#32cd32"/>
<rect x="441" y="212" width="1" height="16" fill="#32cd32"/>
<rect x="440" y="221" width="3" height="5" fill="#32cd32"/>
<rect x="445" y="215" width="1" height="43" fill="#32cd32"/>
<rect x="444" y="225" width="3" height="15" fill="#32cd32"/>
<rect x="449" y="218" width="1" height="22" fill="#ff0000"/>
<rect x="448" y="225" width="3" height="15" fill="#ff0000"/>
<rect x="449" y="226" width="1" height="13" fill="#ff4500"/>
<rect x="453" y="205" width="1" height="23" fill="#ff0000"/>
<rect x="452" y="209" width="3" height="17" fill="#ff0000"/>
<rect x="453" y="210" width="1" height="15" fill="#ff4500"/>
<rect x="457" y="206" width="1" height="15" fill="#32cd32"/>
<rect x="456" y="208" width="3" height="6" fill="#32cd32"/>
<rect x="461" y="208" width="1" height="22" fill="#32cd32"/>
<rect x="460" y="213" width="3" height="9" fill="#32cd32"/>
<rect x="465" y="218" width="1" height="37" fill="#32cd32"/>
<rect x="464" y="222" width="3" height="13" fill="#32cd32"/>
<rect x="469" y="218" width="1" height="19" fill="#ff0000"/>
<rect x="468" y="234" width="3" height="3" fill="#ff0000"/>
<rect x="469" y="235" width="1" height="1" fill="#ff4500"/>
<rect x="473" y="227" width="1" height="24" fill="#32cd32"/>
<rect x="472" y="232" width="3" height="9" fill="#32cd32"/>
<rect x="477" y="232" width="1" height="26" fill="#32cd32"/>
<rect x="476" y="240" width="3" height="12" fill="#32cd32"/>
<rect x="481" y="218" width="1" height="36" fill="#ff0000"/>
<rect x="480" y="220" width="3" height="33" fill="#ff0000"/>
<rect x="481" y="221" width="1" height="31" fill="#ff4500"/>
<rect x="485" y="195" width="1" height="37" fill="#ff0000"/>
<rect x="484" y="198" width="3" height="23" fill="#ff0000"/>
<rect x="485" y="199" width="1" height="21" fill="#ff4500"/>
<rect x="489" y="174" width="1" height="24" fill="#ff0000"/>
<rect x="488" y="183" width="3" height="11" fill="#ff0000"/>
<rect x="489" y="184" width="1" height="9" fill="#ff4500"/>
<rect x="493" y="175" width="1" height="21" fill="#ff0000"/>
<rect x="492" y="179" width="3" height="5" fill="#ff0000"/>
<rect x="493" y="180" width="1" height="3" fill="#ff4500"/>
<rect x="497" y="176" width="1" height="43" fill="#32cd32"/>
<rect x="496" y="179" width="3" height="19" fill="#32cd32"/>
<rect x="501" y="192" width="1" height="30" fill="#32cd32"/>
<rect x="500" y="197" width="3" height="11" fill="#32cd32"/>
<rect x="505" y="194" width="1" height="20" fill="#ff0000"/>
<rect x="504" y="205" width="3" height="3" fill="#ff0000"/>
<rect x="505" y="206" width="1" height="1" fill="#ff4500"/>
<rect x="509" y="199" width="1" height="21" fill="#32cd32"/>
<rect x="508" y="209" width="3" height="3" fill="#32cd32"/>
<rect x="513" y="196" width="1" height="24" fill="#ff0000"/>
<rect x="512" y="197" width="3" height="15" fill="#ff0000"/>
<rect x="513" y="198" width="1" height="13" fill="#ff4500"/>
<rect x="517" y="185" width="1" height="19" fill="#ff0000"/>
<rect x="516" y="187" width="3" height="12" fill="#ff0000"/>
<rect x="517" y="188" width="1" height="10" fill="#ff4500"/>
<rect x="521" y="186" width="1" height="44" fill="#32cd32"/>
<rect x="520" y="187" width="3" height="38" fill="#32cd32"/>
<rect x="525" y="208" width="1" height="44" fill="#32cd32"/>
<rect x="524" y="225" width="3" height="23" fill="#32cd32"/>
<rect x="529" y="212" width="1" height="26" fill="#ff0000"/>
<rect x="528" y="224" width="3" height="9" fill="#ff0000"/>
<rect x="529" y="225" width="1" height="7" fill="#ff4500"/>
<rect x="533" y="211" width="1" height="24" fill="#32cd32"/>
<rect x="532" y="225" width="3" height="2" fill="#32cd32"/>
<rect x="537" y="197" width="1" height="32" fill="#ff0000"/>
<rect x="536" y="215" width="3" height="12" fill="#ff0000"/>
<rect x="537" y="216" width="1" height="10" fill="#ff4500"/>
<rect x="541" y="215" width="1" height="13" fill="#32cd32"/>
<rect x="540" y="217" width="3" height="6" fill="#32cd32"/>
<rect x="545" y="218" width="1" height="18" fill="#32cd32"/>
<rect x="544" y="223" width="3" height="9" fill="#32cd32"/>
<rect x="549" y="211" width="1" height="31" fill="#ff0000"/>
<rect x="548" y="212" width="3" height="18" fill="#ff0000"/>
<rect x="549" y="213" width="1" height="16" fill="#ff4500"/>
<rect x="553" y="205" width="1" height="20" fill="#32cd32"/>
<rect x="552" y="213" width="3" height="5" fill="#32cd32"/>
<rect x="557" y="216" width="1" height="41" fill="#32cd32"/>
<rect x="556" y="217" width="3" height="37" fill="#32cd32"/>
<rect x="561" y="237" width="1" height="21" fill="#ff0000"/>
<rect x="560" y="243" width="3" height="8" fill="#ff0000"/>
<rect x="561" y="244" width="1" height="6" fill="#ff4500"/>
<rect x="565" y="240" width="1" height="21" fill="#32cd32"/>
<rect x="564" y="242" width="3" height="3" fill="#32cd32"/>
<rect x="569" y="238" width="1" height="19" fill="#32cd32"/>
<rect x="568" y="247" width="3" height="5" fill="#32cd32"/>
<rect x="573" y="251" width="1" height="79" fill="#32cd32"/>
<rect x="572" y="252" width="3" height="69" fill="#32cd32"/>
<rect x="577" y="295" width="1" height="29" fill="#ff0000"/>
<rect x="576" y="299" width="3" height="22" fill="#ff0000"/>
<rect x="577" y="300" width="1" height="20" fill="#ff4500"/>
<rect x="581" y="289" width="1" height="23" fill="#ff0000"/>
<rect x="580" y="297" width="3" height="2" fill="#ff0000"/>
<rect x="585" y="292" width="1" height="26" fill="#32cd32"/>
<rect x="584" y="297" width="3" height="13" fill="#32cd32"/>
<rect x="589" y="304" width="1" height="18" fill="#32cd32"/>
<rect x="588" y="311" width="3" height="4" fill="#32cd32"/>
<rect x="593" y="308" width="1" height="14" fill="#32cd32"/>
<rect x="592" y="314" width="3" height="3" fill="#32cd32"/>
<rect x="597" y="293" width="1" height="27" fill="#ff0000"/>
<rect x="596" y="297" width="3" height="20" fill="#ff0000"/>
<rect x="597" y="298" width="1" height="18" fill="#ff4500"/>
<rect x="601" y="282" width="1" height="26" fill="#32cd32"/>
<rect x="600" y="296" width="3" height="8" fill="#32cd32"/>
<rect x="605" y="274" width="1" height="38" fill="#ff0000"/>
<rect x="604" y="279" width="3" height="24" fill="#ff0000"/>
<rect x="605" y="280" width="1" height="22" fill="#ff4500"/>
<rect x="609" y="278" width="1" height="21" fill="#32cd32"/>
<rect x="608" y="280" width="3" height="16" fill="#32cd32"/>
<rect x="613" y="283" width="1" height="17" fill="#ff0000"/>
<rect x="612" y="287" width="3" height="9" fill="#ff0000"/>
<rect x="613" y="288" width="1" height="7" fill="#ff4500"/>
<rect x="617" y="280" width="1" height="21" fill="#32cd32"/>
<rect x="616" y="286" width="3" height="14" fill="#32cd32"/>
<rect x="621" y="286" width="1" height="16" fill="#ff0000"/>
<rect x="620" y="295" width="3" height="5" fill="#ff0000"/>
<rect x="621" y="296" width="1" height="3" fill="#ff4500"/>
<rect x="625" y="279" width="1" height="22" fill="#ff0000"/>
<rect x="624" y="292" width="3" height="4" fill="#ff0000"/>
<rect x="625" y="293" width="1" height="2" fill="#ff4500"/>
<rect x="629" y="290" width="1" height="20" fill="#32cd32"/>
<rect x="628" y="292" width="3" height="13" fill="#32cd32"/>
<rect x="633" y="292" width="1" height="17" fill="#32cd32"/>
<rect x="632" y="304" width="3" height="3" fill="#32cd32"/>
<rect x="637" y="287" width="1" height="22" fill="#ff0000"/>
<rect x="636" y="290" width="3" height="15" fill="#ff0000"/>
<rect x="637" y="291" width="1" height="13" fill="#ff4500"/>
<rect x="641" y="279" width="1" height="30" fill="#32cd32"/>
<rect x="640" y="289" width="3" height="11" fill="#32cd32"/>
<rect x="645" y="297" width="1" height="30" fill="#32cd32"/>
<rect x="644" y="298" width="3" height="14" fill="#32cd32"/>
<rect x="649" y="309" width="1" height="14" fill="#ff0000"/>
<rect x="648" y="312" width="3" height="6" fill="#ff0000"/>
<rect x="649" y="313" width="1" height="4" fill="#ff4500"/>
<rect x="653" y="292" width="1" height="48" fill="#ff0000"/>
<rect x="652" y="301" width="3" height="11" fill="#ff0000"/>
<rect x="653" y="302" width="1" height="9" fill="#ff4500"/>
<rect x="657" y="298" width="1" height="28" fill="#32cd32"/>
<rect x="656" y="300" width="3" height="21" fill="#32cd32"/>
<rect x="661" y="314" width="1" height="9" fill="#ff0000"/>
<rect x="660" y="315" width="3" height="7" fill="#ff0000"/>
<rect x="661" y="316" width="1" height="5" fill="#ff4500"/>
<rect x="665" y="295" width="1" height="22" fill="#ff0000"/>
<rect x="664" y="301" width="3" height="15" fill="#ff0000"/>
<rect x="665" y="302" width="1" height="13" fill="#ff4500"/>
<rect x="669" y="295" width="1" height="25" fill="#32cd32"/>
<rect x="668" y="299" width="3" height="6" fill="#32cd32"/>
<rect x="673" y="295" width="1" height="15" fill="#ff0000"/>
<rect x="672" y="300" width="3" height="5" fill="#ff0000"/>
<rect x="673" y="301" width="1" height="3" fill="#ff4500"/>
<rect x="677" y="291" width="1" height="15" fill="#ff0000"/>
<rect x="676" y="296" width="3" height="5" fill="#ff0000"/>
<rect x="677" y="297" width="1" height="3" fill="#ff4500"/>
<rect x="681" y="294" width="1" height="15" fill="#32cd32"/>
<rect x="680" y="295" width="3" height="8" fill="#32cd32"/>
<rect x="685" y="289" width="1" height="16" fill="#ff0000"/>
<rect x="684" y="291" width="3" height="12" fill="#ff0000"/>
<rect x="685" y="292" width="1" height="10" fill="#ff4500"/>
<rect x="689" y="294" width="1" height="19" fill="#32cd32"/>
<rect x="688" y="296" width="3" height="14" fill="#32cd32"/>
<rect x="693" y="308" width="1" height="30" fill="#32cd32"/>
<rect x="692" y="309" width="3" height="22" fill="#32cd32"/>
<rect x="697" y="321" width="1" height="17" fill="#ff0000"/>
<rect x="696" y="326" width="3" height="5" fill="#ff0000"/>
<rect x="697" y="327" width="1" height="3" fill="#ff4500"/>
<rect x="701" y="318" width="1" height="12" fill="#ff0000"/>
<rect x="700" y="325" width="3" height="2" fill="#ff0000"/>
<rect x="705" y="315" width="1" height="17" fill="#ff0000"/>
<rect x="704" y="323" width="3" height="2" fill="#ff0000"/>
<rect x="709" y="316" width="1" height="12" fill="#ff0000"/>
<rect x="708" y="321" width="3" height="2" fill="#ff0000"/>
<rect x="713" y="319" width="1" height="22" fill="#32cd32"/>
<rect x="712" y="322" width="3" height="15" fill="#32cd32"/>
<rect x="717" y="333" width="1" height="47" fill="#32cd32"/>
<rect x="716" y="335" width="3" height="26" fill="#32cd32"/>
<rect x="721" y="310" width="1" height="59" fill="#ff0000"/>
<rect x="720" y="319" width="3" height="41" fill="#ff0000"/>
<rect x="721" y="320" width="1" height="39" fill="#ff4500"/>
<rect x="725" y="303" width="1" height="33" fill="#32cd32"/>
<rect x="724" y="319" width="3" height="1" fill="#32cd32"/>
<rect x="729" y="319" width="1" height="18" fill="#32cd32"/>
<rect x="728" y="320" width="3" height="4" fill="#32cd32"/>
<rect x="733" y="320" width="1" height="12" fill="#32cd32"/>
<rect x="732" y="322" width="3" height="4" fill="#32cd32"/>
<rect x="737" y="314" width="1" height="15" fill="#ff0000"/>
<rect x="736" y="320" width="3" height="5" fill="#ff0000"/>
<rect x="737" y="321" width="1" height="3" fill="#ff4500"/>
<rect x="741" y="313" width="1" height="15" fill="#ff0000"/>
<rect x="740" y="317" width="3" height="4" fill="#ff0000"/>
<rect x="741" y="318" width="1" height="2" fill="#ff4500"/>
<rect x="745" y="297" width="1" height="25" fill="#ff0000"/>
<rect x="744" y="308" width="3" height="8" fill="#ff0000"/>
<rect x="745" y="309" width="1" height="6" fill="#ff4500"/>
<rect x="749" y="302" width="1" height="13" fill="#32cd32"/>
<rect x="748" y="305" width="3" height="7" fill="#32cd32"/>
<rect x="753" y="308" width="1" height="14" fill="#32cd32"/>
<rect x="752" y="311" width="3" height="8" fill="#32cd32"/>
<rect x="757" y="312" width="1" height="11" fill="#32cd32"/>
<rect x="756" y="319" width="3" height="1" fill="#32cd32"/>
<rect x="761" y="316" width="1" height="5" fill="#32cd32"/>
<rect x="760" y="319" width="3" height="2" fill="#32cd32"/>
<rect x="765" y="316" width="1" height="7" fill="#32cd32"/>
<rect x="764" y="320" width="3" height="2" fill="#32cd32"/>
<rect x="769" y="319" width="1" height="9" fill="#ff0000"/>
<rect x="768" y="322" width="3" height="4" fill="#ff0000"/>
<rect x="769" y="323" width="1" height="2" fill="#ff4500"/>
<rect x="773" y="318" width="1" height="10" fill="#32cd32"/>
<rect x="772" y="322" width="3" height="4" fill="#32cd32"/>
<rect x="777" y="322" width="1" height="11" fill="#32cd32"/>
<rect x="776" y="323" width="3" height="7" fill="#32cd32"/>
<rect x="781" y="315" width="1" height="17" fill="#ff0000"/>
<rect x="780" y="320" width="3" height="10" fill="#ff0000"/>
<rect x="781" y="321" width="1" height="8" fill="#ff4500"/>
<rect x="785" y="316" width="1" height="54" fill="#32cd32"/>
<rect x="784" y="320" width="3" height="16" fill="#32cd32"/>
<rect x="789" y="325" width="1" height="27" fill="#ff0000"/>
<rect x="788" y="327" width="3" height="15" fill="#ff0000"/>
<rect x="789" y="328" width="1" height="13" fill="#ff4500"/>
<rect x="793" y="311" width="1" height="17" fill="#ff0000"/>
<rect x="792" y="323" width="3" height="4" fill="#ff0000"/>
<rect x="793" y="324" width="1" height="2" fill="#ff4500"/>
<rect x="797" y="319" width="1" height="14" fill="#32cd32"/>
<rect x="796" y="321" width="3" height="1" fill="#32cd32"/>
<rect x="801" y="292" width="1" height="34" fill="#ff0000"/>
<rect x="800" y="300" width="3" height="23" fill="#ff0000"/>
<rect x="801" y="301" width="1" height="21" fill="#ff4500"/>
<rect x="805" y="298" width="1" height="20" fill="#32cd32"/>
<rect x="804" y="300" width="3" height="12" fill="#32cd32"/>
<rect x="809" y="307" width="1" height="11" fill="#32cd32"/>
<rect x="808" y="312" width="3" height="3" fill="#32cd32"/>
<rect x="813" y="309" width="1" height="11" fill="#32cd32"/>
<rect x="812" y="314" width="3" height="4" fill="#32cd32"/>
<rect x="817" y="318" width="1" height="24" fill="#32cd32"/>
<rect x="816" y="318" width="3" height="20" fill="#32cd32"/>
<rect x="821" y="329" width="1" height="16" fill="#32cd32"/>
<rect x="820" y="334" width="3" height="4" fill="#32cd32"/>
<rect x="825" y="332" width="1" height="32" fill="#32cd32"/>
<rect x="824" y="337" width="3" height="10" fill="#32cd32"/>
<rect x="829" y="334" width="1" height="23" fill="#32cd32"/>
<rect x="828" y="346" width="3" height="8" fill="#32cd32"/>
<rect x="833" y="338" width="1" height="29" fill="#ff0000"/>
<rect x="832" y="342" width="3" height="10" fill="#ff0000"/>
<rect x="833" y="343" width="1" height="8" fill="#ff4500"/>
<rect x="837" y="338" width="1" height="18" fill="#32cd32"/>
<rect x="836" y="342" width="3" height="9" fill="#32cd32"/>
<rect x="841" y="346" width="1" height="20" fill="#32cd32"/>
<rect x="840" y="350" width="3" height="6" fill="#32cd32"/>
<rect x="845" y="350" width="1" height="21" fill="#32cd32"/>
<rect x="844" y="356" width="3" height="8" fill="#32cd32"/>
<rect x="849" y="364" width="1" height="23" fill="#32cd32"/>
<rect x="848" y="366" width="3" height="11" fill="#32cd32"/>
<rect x="853" y="369" width="1" height="13" fill="#32cd32"/>
<rect x="852" y="376" width="3" height="3" fill="#32cd32"/>
<rect x="857" y="367" width="1" height="21" fill="#ff0000"/>
<rect x="856" y="372" width="3" height="8" fill="#ff0000"/>
<rect x="857" y="373" width="1" height="6" fill="#ff4500"/>
<rect x="861" y="320" width="1" height="53" fill="#ff0000"/>
<rect x="860" y="329" width="3" height="44" fill="#ff0000"/>
<rect x="861" y="330" width="1" height="42" fill="#ff4500"/>
<rect x="865" y="322" width="1" height="23" fill="#ff0000"/>
<rect x="864" y="326" width="3" height="4" fill="#ff0000"/>
<rect x="865" y="327" width="1" height="2" fill="#ff4500"/>
<rect x="869" y="307" width="1" height="28" fill="#ff0000"/>
<rect x="868" y="325" width="3" height="7" fill="#ff0000"/>
<rect x="869" y="326" width="1" height="5" fill="#ff4500"/>
<rect x="873" y="322" width="1" height="14" fill="#32cd32"/>
<rect x="872" y="326" width="3" height="2" fill="#32cd32"/>
<rect x="877" y="320" width="1" height="28" fill="#32cd32"/>
<rect x="876" y="328" width="3" height="15" fill="#32cd32"/>
<rect x="881" y="326" width="1" height="28" fill="#32cd32"/>
<rect x="880" y="343" width="3" height="9" fill="#32cd32"/>
<rect x="885" y="329" width="1" height="27" fill="#ff0000"/>
<rect x="884" y="337" width="3" height="15" fill="#ff0000"/>
<rect x="885" y="338" width="1" height="13" fill="#ff4500"/>
<rect x="889" y="329" width="1" height="17" fill="#ff0000"/>
<rect x="888" y="339" width="3" height="2" fill="#ff0000"/>
<rect x="893" y="320" width="1" height="26" fill="#ff0000"/>
<rect x="892" y="331" width="3" height="9" fill="#ff0000"/>
<rect x="893" y="332" width="1" height="7" fill="#ff4500"/>
<rect x="897" y="327" width="1" height="15" fill="#32cd32"/>
<rect x="896" y="331" width="3" height="7" fill="#32cd32"/>
<rect x="901" y="331" width="1" height="21" fill="#ff0000"/>
<rect x="900" y="334" width="3" height="4" fill="#ff0000"/>
<rect x="901" y="335" width="1" height="2" fill="#ff4500"/>
<rect x="905" y="328" width="1" height="21" fill="#ff0000"/>
<rect x="904" y="330" width="3" height="5" fill="#ff0000"/>
<rect x="905" y="331" width="1" height="3" fill="#ff4500"/>
<rect x="909" y="331" width="1" height="18" fill="#32cd32"/>
<rect x="908" y="332" width="3" height="13" fill="#32cd32"/>
<rect x="913" y="342" width="1" height="36" fill="#32cd32"/>
<rect x="912" y="345" width="3" height="24" fill="#32cd32"/>
<rect x="917" y="364" width="1" height="17" fill="#32cd32"/>
<rect x="916" y="368" width="3" height="9" fill="#32cd32"/>
<rect x="921" y="368" width="1" height="15" fill="#ff0000"/>
<rect x="920" y="375" width="3" height="3" fill="#ff0000"/>
<rect x="921" y="376" width="1" height="1" fill="#ff4500"/>
<rect x="925" y="372" width="1" height="25" fill="#32cd32"/>
<rect x="924" y="375" width="3" height="12" fill="#32cd32"/>
</g>
<g clip-path="url(#cd)">
<rect x="4" y="413" width="3" height="26" fill="#c0c0c0"/>
<rect x="8" y="413" width="3" height="26" fill="#c0c0c0"/>
<rect x="12" y="414" width="3" height="25" fill="#c0c0c0"/>
<rect x="16" y="415" width="3" height="24" fill="#c0c0c0"/>
<rect x="20" y="416" width="3" height="23" fill="#c0c0c0"/>
<rect x="24" y="418" width="3" height="21" fill="#c0c0c0"/>
<rect x="28" y="420" width="3" height="19" fill="#c0c0c0"/>
<rect x="32" y="421" width="3" height="18" fill="#c0c0c0"/>
<rect x="36" y="424" width="3" height="15" fill="#c0c0c0"/>
<rect x="40" y="426" width="3" height="13" fill="#c0c0c0"/>
<rect x="44" y="429" width="3" height="10" fill="#c0c0c0"/>
<rect x="48" y="432" width="3" height="7" fill="#c0c0c0"/>
<rect x="52" y="436" width="3" height="3" fill="#c0c0c0"/>
<rect x="56" y="439" width="3" height="2" fill="#c0c0c0"/>
<rect x="60" y="439" width="3" height="3" fill="#c0c0c0"/>
<rect x="64" y="439" width="3" height="7" fill="#c0c0c0"/>
<rect x="68" y="439" width="3" height="10" fill="#c0c0c0"/>
<rect x="72" y="439" width="3" height="12" fill="#c0c0c0"/>
<rect x="76" y="439" width="3" height="14" fill="#c0c0c0"/>
<rect x="80" y="439" width="3" height="16" fill="#c0c0c0"/>
<rect x="84" y="439" width="3" height="17" fill="#c0c0c0"/>
<rect x="88" y="439" width="3" height="18" fill="#c0c0c0"/>
<rect x="92" y="439" width="3" height="17" fill="#c0c0c0"/>
<rect x="96" y="439" width="3" height="16" fill="#c0c0c0"/>
<rect x="100" y="439" width="3" height="17" fill="#c0c0c0"/>
<rect x="104" y="439" width="3" height="22" fill="#c0c0c0"/>
<rect x="108" y="439" width="3" height="25" fill="#c0c0c0"/>
<rect x="112" y="439" width="3" height="26" fill="#c0c0c0"/>
<rect x="116" y="439" width="3" height="25" fill="#c0c0c0"/>
<rect x="120" y="439" width="3" height="24" fill="#c0c0c0"/>
<rect x="124" y="439" width="3" height="23" fill="#c0c0c0"/>
<rect x="128" y="439" width="3" height="23" fill="#c0c0c0"/>
<rect x="132" y="439" width="3" height="24" fill="#c0c0c0"/>
<rect x="136" y="439" width="3" height="23" fill="#c0c0c0"/>
<rect x="140" y="439" width="3" height="22" fill="#c0c0c0"/>
<rect x="144" y="439" width="3" height="22" fill="#c0c0c0"/>
<rect x="148" y="439" width="3" height="22" fill="#c0c0c0"/>
<rect x="152" y="439" width="3" height="24" fill="#c0c0c0"/>
<rect x="156" y="439" width="3" height="27" fill="#c0c0c0"/>
<rect x="160" y="439" width="3" height="30" fill="#c0c0c0"/>
<rect x="164" y="439" width="3" height="33" fill="#c0c0c0"/>
<rect x="168" y="439" width="3" height="34" fill="#c0c0c0"/>
<rect x="172" y="439" width="3" height="34" fill="#c0c0c0"/>
<rect x="176" y="439" width="3" height="33" fill="#c0c0c0"/>
<rect x="180" y="439" width="3" height="31" fill="#c0c0c0"/>
<rect x="184" y="439" width="3" height="29" fill="#c0c0c0"/>
<rect x="188" y="439" width="3" height="27" fill="#c0c0c0"/>
<rect x="192" y="439" width="3" height="25" fill="#c0c0c0"/>
<rect x="196" y="439" width="3" height="24" fill="#c0c0c0"/>
<rect x="200" y="439" width="3" height="23" fill="#c0c0c0"/>
<rect x="204" y="439" width="3" height="21" fill="#c0c0c0"/>
<rect x="208" y="439" width="3" height="19" fill="#c0c0c0"/>
<rect x="212" y="439" width="3" height="16" fill="#c0c0c0"/>
<rect x="216" y="439" width="3" height="11" fill="#c0c0c0"/>
<rect x="220" y="439" width="3" height="6" fill="#c0c0c0"/>
<rect x="224" y="439" width="3" height="2" fill="#c0c0c0"/>
<rect x="228" y="435" width="3" height="4" fill="#c0c0c0"/>
<rect x="232" y="431" width="3" height="8" fill="#c0c0c0"/>
<rect x="236" y="427" width="3" height="12" fill="#c0c0c0"/>
<rect x="240" y="425" width="3" height="14" fill="#c0c0c0"/>
<rect x="244" y="425" width="3" height="14" fill="#c0c0c0"/>
<rect x="248" y="424" width="3" height="15" fill="#c0c0c0"/>
<rect x="252" y="424" width="3" height="15" fill="#c0c0c0"/>
<rect x="256" y="424" width="3" height="15" fill="#c0c0c0"/>
<rect x="260" y="423" width="3" height="16" fill="#c0c0c0"/>
<rect x="264" y="423" width="3" height="16" fill="#c0c0c0"/>
<rect x="268" y="424" width="3" height="15" fill="#c0c0c0"/>
<rect x="272" y="424" width="3" height="15" fill="#c0c0c0"/>
<rect x="276" y="424" width="3" height="15" fill="#c0c0c0"/>
<rect x="280" y="422" width="3" height="17" fill="#c0c0c0"/>
<rect x="284" y="422" width="3" height="17" fill="#c0c0c0"/>
<rect x="288" y="423" width="3" height="16" fill="#c0c0c0"/>
<rect x="292" y="424" width="3" height="15" fill="#c0c0c0"/>
<rect x="296" y="425" width="3" height="14" fill="#c0c0c0"/>
<rect x="300" y="427" width="3" height="12" fill="#c0c0c0"/>
<rect x="304" y="427" width="3" height="12" fill="#c0c0c0"/>
<rect x="308" y="426" width="3" height="13" fill="#c0c0c0"/>
<rect x="312" y="426" width="3" height="13" fill="#c0c0c0"/>
<rect x="316" y="428" width="3" height="11" fill="#c0c0c0"/>
<rect x="320" y="429" width="3" height="10" fill="#c0c0c0"/>
<rect x="324" y="429" width="3" height="10" fill="#c0c0c0"/>
<rect x="328" y="430" width="3" height="9" fill="#c0c0c0"/>
<rect x="332" y="426" width="3" height="13" fill="#c0c0c0"/>
<rect x="336" y="426" width="3" height="13" fill="#c0c0c0"/>
<rect x="340" y="429" width="3" height="10" fill="#c0c0c0"/>
<rect x="344" y="431" width="3" height="8" fill="#c0c0c0"/>
<rect x="348" y="433" width="3" height="6" fill="#c0c0c0"/>
<rect x="352" y="435" width="3" height="4" fill="#c0c0c0"/>
<rect x="356" y="436" width="3" height="3" fill="#c0c0c0"/>
<rect x="360" y="437" width="3" height="2" fill="#c0c0c0"/>
<rect x="364" y="437" width="3" height="2" fill="#c0c0c0"/>
<rect x="368" y="436" width="3" height="3" fill="#c0c0c0"/>
<rect x="372" y="435" width="3" height="4" fill="#c0c0c0"/>
<rect x="376" y="435" width="3" height="4" fill="#c0c0c0"/>
<rect x="380" y="435" width="3" height="4" fill="#c0c0c0"/>
<rect x="384" y="436" width="3" height="3" fill="#c0c0c0"/>
<rect x="388" y="436" width="3" height="3" fill="#c0c0c0"/>
<rect x="392" y="434" width="3" height="5" fill="#c0c0c0"/>
<rect x="396" y="434" width="3" height="5" fill="#c0c0c0"/>
<rect x="400" y="432" width="3" height="7" fill="#c0c0c0"/>
<rect x="404" y="431" width="3" height="8" fill="#c0c0c0"/>
<rect x="408" y="433" width="3" height="6" fill="#c0c0c0"/>
<rect x="412" y="435" width="3" height="4" fill="#c0c0c0"/>
<rect x="416" y="436" width="3" height="3" fill="#c0c0c0"/>
<rect x="420" y="436" width="3" height="3" fill="#c0c0c0"/>
<rect x="424" y="438" width="3" height="1" fill="#c0c0c0"/>
<rect x="428" y="439" width="3" height="1" fill="#c0c0c0"/>
<rect x="432" y="439" width="3" height="3" fill="#c0c0c0"/>
<rect x="436" y="439" width="3" height="4" fill="#c0c0c0"/>
<rect x="440" y="439" width="3" height="5" fill="#c0c0c0"/>
<rect x="444" y="439" width="3" height="8" fill="#c0c0c0"/>
<rect x="448" y="439" width="3" height="9" fill="#c0c0c0"/>
<rect x="452" y="439" width="3" height="8" fill="#c0c0c0"/>
<rect x="456" y="439" width="3" height="7" fill="#c0c0c0"/>
<rect x="460" y="439" width="3" height="7" fill="#c0c0c0"/>
<rect x="464" y="439" width="3" height="8" fill="#c0c0c0"/>
<rect x="468" y="439" width="3" height="9" fill="#c0c0c0"/>
<rect x="472" y="439" width="3" height="10" fill="#c0c0c0"/>
<rect x="476" y="439" width="3" height="11" fill="#c0c0c0"/>
<rect x="480" y="439" width="3" height="10" fill="#c0c0c0"/>
<rect x="484" y="439" width="3" height="8" fill="#c0c0c0"/>
<rect x="488" y="439" width="3" height="5" fill="#c0c0c0"/>
<rect x="492" y="439" width="3" height="2" fill="#c0c0c0"/>
<rect x="496" y="439" width="3" height="1" fill="#c0c0c0"/>
<rect x="500" y="439" width="3" height="1" fill="#c0c0c0"/>
<rect x="504" y="439" width="3" height="1" fill="#c0c0c0"/>
<rect x="508" y="438" width="3" height="1" fill="#c0c0c0"/>
<rect x="512" y="438" width="3" height="1" fill="#c0c0c0"/>
<rect x="516" y="437" width="3" height="2" fill="#c0c0c0"/>
<rect x="520" y="439" width="3" height="1" fill="#c0c0c0"/>
<rect x="524" y="439" width="3" height="3" fill="#c0c0c0"/>
<rect x="528" y="439" width="3" height="4" fill="#c0c0c0"/>
<rect x="532" y="439" width="3" height="4" fill="#c0c0c0"/>
<rect x="536" y="439" width="3" height="3" fill="#c0c0c0"/>
<rect x="540" y="439" width="3" height="4" fill="#c0c0c0"/>
<rect x="544" y="439" width="3" height="5" fill="#c0c0c0"/>
<rect x="548" y="439" width="3" height="4" fill="#c0c0c0"/>
<rect x="552" y="439" width="3" height="3" fill="#c0c0c0"/>
<rect x="556" y="439" width="3" height="6" fill="#c0c0c0"/>
<rect x="560" y="439" width="3" height="7" fill="#c0c0c0"/>
<rect x="564" y="439" width="3" height="7" fill="#c0c0c0"/>
<rect x="568" y="439" width="3" height="9" fill="#c0c0c0"/>
<rect x="572" y="439" width="3" height="15" fill="#c0c0c0"/>
<rect x="576" y="439" width="3" height="17" fill="#c0c0c0"/>
<rect x="580" y="439" width="3" height="19" fill="#c0c0c0"/>
<rect x="584" y="439" width="3" height="21" fill="#c0c0c0"/>
<rect x="588" y="439" width="3" height="23" fill="#c0c0c0"/>
<rect x="592" y="439" width="3" height="24" fill="#c0c0c0"/>
<rect x="596" y="439" width="3" height="23" fill="#c0c0c0"/>
<rect x="600" y="439" width="3" height="23" fill="#c0c0c0"/>
<rect x="604" y="439" width="3" height="21" fill="#c0c0c0"/>
<rect x="608" y="439" width="3" height="20" fill="#c0c0c0"/>
<rect x="612" y="439" width="3" height="19" fill="#c0c0c0"/>
<rect x="616" y="439" width="3" height="18" fill="#c0c0c0"/>
<rect x="620" y="439" width="3" height="17" fill="#c0c0c0"/>
<rect x="624" y="439" width="3" height="16" fill="#c0c0c0"/>
<rect x="628" y="439" width="3" height="15" fill="#c0c0c0"/>
<rect x="632" y="439" width="3" height="15" fill="#c0c0c0"/>
<rect x="636" y="439" width="3" height="14" fill="#c0c0c0"/>
<rect x="640" y="439" width="3" height="13" fill="#c0c0c0"/>
<rect x="644" y="439" width="3" height="14" fill="#c0c0c0"/>
<rect x="648" y="439" width="3" height="14" fill="#c0c0c0"/>
<rect x="652" y="439" width="3" height="13" fill="#c0c0c0"/>
<rect x="656" y="439" width="3" height="14" fill="#c0c0c0"/>
<rect x="660" y="439" width="3" height="13" fill="#c0c0c0"/>
<rect x="664" y="439" width="3" height="12" fill="#c0c0c0"/>
<rect x="668" y="439" width="3" height="11" fill="#c0c0c0"/>
<rect x="672" y="439" width="3" height="10" fill="#c0c0c0"/>
<rect x="676" y="439" width="3" height="9" fill="#c0c0c0"/>
<rect x="680" y="439" width="3" height="8" fill="#c0c0c0"/>
<rect x="684" y="439" width="3" height="7" fill="#c0c0c0"/>
<rect x="688" y="439" width="3" height="7" fill="#c0c0c0"/>
<rect x="692" y="439" width="3" height="8" fill="#c0c0c0"/>
<rect x="696" y="439" width="3" height="9" fill="#c0c0c0"/>
<rect x="700" y="439" width="3" height="10" fill="#c0c0c0"/>
<rect x="704" y="439" width="3" height="10" fill="#c0c0c0"/>
<rect x="708" y="439" width="3" height="10" fill="#c0c0c0"/>
<rect x="712" y="439" width="3" height="11" fill="#c0c0c0"/>
<rect x="716" y="439" width="3" height="13" fill="#c0c0c0"/>
<rect x="720" y="439" width="3" height="12" fill="#c0c0c0"/>
<rect x="724" y="439" width="3" height="11" fill="#c0c0c0"/>
<rect x="728" y="439" width="3" height="11" fill="#c0c0c0"/>
<rect x="732" y="439" width="3" height="10" fill="#c0c0c0"/>
<rect x="736" y="439" width="3" height="9" fill="#c0c0c0"/>
<rect x="740" y="439" width="3" height="8" fill="#c0c0c0"/>
<rect x="744" y="439" width="3" height="6" fill="#c0c0c0"/>
<rect x="748" y="439" width="3" height="5" fill="#c0c0c0"/>
<rect x="752" y="439" width="3" height="5" fill="#c0c0c0"/>
<rect x="756" y="439" width="3" height="4" fill="#c0c0c0"/>
<rect x="760" y="439" width="3" height="4" fill="#c0c0c0"/>
<rect x="764" y="439" width="3" height="4" fill="#c0c0c0"/>
<rect x="768" y="439" width="3" height="4" fill="#c0c0c0"/>
<rect x="772" y="439" width="3" height="4" fill="#c0c0c0"/>
<rect x="776" y="439" width="3" height="4" fill="#c0c0c0"/>
<rect x="780" y="439" width="3" height="4" fill="#c0c0c0"/>
<rect x="784" y="439" width="3" height="4" fill="#c0c0c0"/>
<rect x="788" y="439" width="3" height="4" fill="#c0c0c0"/>
<rect x="792" y="439" width="3" height="4" fill="#c0c0c0"/>
<rect x="796" y="439" width="3" height="3" fill="#c0c0c0"/>
<rect x="800" y="439" width="3" height="2" fill="#c0c0c0"/>
<rect x="804" y="439" width="3" height="1" fill="#c0c0c0"/>
<rect x="808" y="439" width="3" height="1" fill="#c0c0c0"/>
<rect x="812" y="439" width="3" height="1" fill="#c0c0c0"/>
<rect x="816" y="439" width="3" height="1" fill="#c0c0c0"/>
<rect x="820" y="439" width="3" height="2" fill="#c0c0c0"/>
<rect x="824" y="439" width="3" height="4" fill="#c0c0c0"/>
<rect x="828" y="439" width="3" height="5" fill="#c0c0c0"/>
<rect x="832" y="439" width="3" height="6" fill="#c0c0c0"/>
<rect x="836" y="439" width="3" height="7" fill="#c0c0c0"/>
<rect x="840" y="439" width="3" height="8" fill="#c0c0c0"/>
<rect x="844" y="439" width="3" height="9" fill="#c0c0c0"/>
<rect x="848" y="439" width="3" height="11" fill="#c0c0c0"/>
<rect x="852" y="439" width="3" height="12" fill="#c0c0c0"/>
<rect x="856" y="439" width="3" height="13" fill="#c0c0c0"/>
<rect x="860" y="439" width="3" height="9" fill="#c0c0c0"/>
<rect x="864" y="439" width="3" height="8" fill="#c0c0c0"/>
<rect x="868" y="439" width="3" height="6" fill="#c0c0c0"/>
<rect x="872" y="439" width="3" height="4" fill="#c0c0c0"/>
<rect x="876" y="439" width="3" height="4" fill="#c0c0c0"/>
<rect x="880" y="439" width="3" height="4" fill="#c0c0c0"/>
<rect x="884" y="439" width="3" height="4" fill="#c0c0c0"/>
<rect x="888" y="439" width="3" height="3" fill="#c0c0c0"/>
<rect x="892" y="439" width="3" height="2" fill="#c0c0c0"/>
<rect x="896" y="439" width="3" height="1" fill="#c0c0c0"/>
<rect x="900" y="439" width="3" height="1" fill="#c0c0c0"/>
<rect x="904" y="439" width="3" height="1" fill="#c0c0c0"/>
<rect x="908" y="439" width="3" height="1" fill="#c0c0c0"/>
<rect x="912" y="439" width="3" height="2" fill="#c0c0c0"/>
<rect x="916" y="439" width="3" height="5" fill="#c0c0c0"/>
<rect x="920" y="439" width="3" height="6" fill="#c0c0c0"/>
<rect x="924" y="439" width="3" height="9" fill="#c0c0c0"/>
<rect x="11" y="411" width="28" height="9.4" fill="#ffffff"/>
<text x="9" y="420" font-size="10.2" fill="#000" textLength="154" lengthAdjust="spacingAndGlyphs" stroke="#000" stroke-width="0.25">MACD(12,26,9) -0.007251 -0.002664</text>
<path d="M10 416.5h28M8 417.5h2M38 417.5h3M6 418.5h2M41 418.5h2M5 419.5h1M43 419.5h2M4 420.5h1M45 420.5h2M47 421.5h2M49 422.5h2M51 423.5h2M278 423.5h24M53 424.5h2M265 424.5h13M302 424.5h14M55 425.5h1M262 425.5h3M316 425.5h4M56 426.5h2M259 426.5h3M320 426.5h6M58 427.5h1M257 427.5h2M326 427.5h16M59 428.5h1M255 428.5h2M342 428.5h6M60 429.5h2M254 429.5h1M348 429.5h4M62 430.5h1M253 430.5h1M352 430.5h5M63 431.5h1M251 431.5h2M357 431.5h6M64 432.5h2M250 432.5h1M363 432.5h4M66 433.5h1M249 433.5h1M367 433.5h4M67 434.5h1M248 434.5h1M371 434.5h4M399 434.5h31M68 435.5h2M247 435.5h1M375 435.5h12M392 435.5h7M430 435.5h5M70 436.5h1M245 436.5h2M387 436.5h5M435 436.5h3M71 437.5h1M244 437.5h1M438 437.5h3M72 438.5h2M243 438.5h1M441 438.5h3M74 439.5h1M242 439.5h1M444 439.5h3M518 439.5h22M75 440.5h1M241 440.5h1M447 440.5h3M513 440.5h5M540 440.5h8M76 441.5h2M240 441.5h1M450 441.5h4M509 441.5h4M548 441.5h8M807 441.5h30M901 441.5h22M78 442.5h1M239 442.5h1M454 442.5h5M505 442.5h4M556 442.5h8M774 442.5h33M837 442.5h3M895 442.5h6M923 442.5h2M79 443.5h2M238 443.5h1M459 443.5h3M502 443.5h3M564 443.5h6M765 443.5h9M840 443.5h8M890 443.5h5M81 444.5h1M237 444.5h1M462 444.5h3M499 444.5h3M570 444.5h4M759 444.5h6M848 444.5h2M886 444.5h4M82 445.5h2M236 445.5h1M465 445.5h2M495 445.5h4M574 445.5h2M754 445.5h5M850 445.5h2M882 445.5h4M84 446.5h2M235 446.5h1M467 446.5h5M492 446.5h3M576 446.5h2M750 446.5h4M852 446.5h3M879 446.5h3M86 447.5h1M233 447.5h2M472 447.5h20M578 447.5h2M694 447.5h23M745 447.5h5M855 447.5h4M873 447.5h6M87 448.5h2M232 448.5h1M580 448.5h2M687 448.5h7M717 448.5h5M738 448.5h7M859 448.5h14M89 449.5h2M231 449.5h1M582 449.5h2M679 449.5h8M722 449.5h16M91 450.5h2M230 450.5h1M584 450.5h2M671 450.5h8M93 451.5h3M229 451.5h1M586 451.5h2M665 451.5h6M96 452.5h4M227 452.5h2M588 452.5h2M660 452.5h5M100 453.5h3M226 453.5h1M590 453.5h2M645 453.5h15M103 454.5h2M225 454.5h1M592 454.5h2M641 454.5h4M105 455.5h3M224 455.5h1M594 455.5h2M635 455.5h6M108 456.5h3M223 456.5h1M596 456.5h2M630 456.5h5M111 457.5h4M221 457.5h2M598 457.5h3M627 457.5h3M115 458.5h6M219 458.5h2M601 458.5h3M624 458.5h3M121 459.5h6M218 459.5h1M604 459.5h20M127 460.5h4M216 460.5h2M131 461.5h6M214 461.5h2M137 462.5h22M212 462.5h2M159 463.5h4M210 463.5h2M163 464.5h4M208 464.5h2M167 465.5h4M206 465.5h2M171 466.5h4M203 466.5h3M175 467.5h4M201 467.5h2M179 468.5h5M196 468.5h5M184 469.5h12" fill="none" stroke="#ff0000" stroke-width="1"/>
</g>
<g clip-path="url(#cr)">
<line x1="6" y1="500.5" x2="1167" y2="500.5" stroke="#c0c0c0" stroke-width="1" stroke-dasharray="3,3"/>
<line x1="6" y1="528.5" x2="1167" y2="528.5" stroke="#c0c0c0" stroke-width="1" stroke-dasharray="3,3"/>
<path d="M230 502.5h7M333 502.5h1M4 503.5h1M228 503.5h2M237 503.5h1M281 503.5h1M332 503.5h1M334 503.5h1M5 504.5h1M225 504.5h3M238 504.5h2M273 504.5h1M280 504.5h1M282 504.5h1M332 504.5h1M334 504.5h1M6 505.5h1M223 505.5h2M240 505.5h1M260 505.5h4M272 505.5h1M274 505.5h1M279 505.5h1M283 505.5h2M309 505.5h1M331 505.5h1M335 505.5h1M7 506.5h1M221 506.5h2M241 506.5h2M253 506.5h7M264 506.5h3M271 506.5h1M275 506.5h2M278 506.5h1M285 506.5h1M308 506.5h1M310 506.5h1M331 506.5h1M335 506.5h1M8 507.5h1M219 507.5h2M243 507.5h2M251 507.5h2M267 507.5h1M271 507.5h1M277 507.5h1M286 507.5h2M291 507.5h3M307 507.5h1M311 507.5h1M330 507.5h1M336 507.5h1M9 508.5h1M18 508.5h7M218 508.5h1M245 508.5h6M268 508.5h1M270 508.5h1M288 508.5h3M294 508.5h1M307 508.5h1M312 508.5h1M330 508.5h1M336 508.5h1M400 508.5h6M490 508.5h3M801 508.5h1M10 509.5h2M16 509.5h2M25 509.5h1M217 509.5h1M269 509.5h1M294 509.5h1M306 509.5h1M313 509.5h1M329 509.5h1M337 509.5h1M393 509.5h2M398 509.5h2M406 509.5h1M487 509.5h3M493 509.5h1M801 509.5h2M12 510.5h1M14 510.5h2M26 510.5h2M216 510.5h1M295 510.5h1M305 510.5h1M314 510.5h1M327 510.5h2M337 510.5h1M392 510.5h1M395 510.5h3M407 510.5h1M485 510.5h2M494 510.5h2M516 510.5h2M800 510.5h1M803 510.5h1M13 511.5h1M28 511.5h2M216 511.5h1M296 511.5h1M303 511.5h2M315 511.5h1M326 511.5h1M338 511.5h1M367 511.5h7M391 511.5h1M407 511.5h1M484 511.5h1M496 511.5h1M514 511.5h2M518 511.5h1M800 511.5h1M804 511.5h1M863 511.5h9M30 512.5h3M215 512.5h1M296 512.5h1M302 512.5h1M315 512.5h1M320 512.5h6M338 512.5h1M365 512.5h2M374 512.5h2M391 512.5h1M408 512.5h1M483 512.5h1M497 512.5h2M513 512.5h1M518 512.5h1M799 512.5h1M805 512.5h1M861 512.5h2M872 512.5h1M893 512.5h2M904 512.5h2M33 513.5h2M215 513.5h1M297 513.5h5M316 513.5h1M318 513.5h2M339 513.5h1M364 513.5h1M376 513.5h7M390 513.5h1M409 513.5h1M421 513.5h1M483 513.5h1M499 513.5h2M511 513.5h2M519 513.5h1M743 513.5h5M799 513.5h1M806 513.5h2M861 513.5h1M873 513.5h1M891 513.5h2M895 513.5h2M900 513.5h4M906 513.5h1M35 514.5h3M214 514.5h1M317 514.5h1M339 514.5h1M363 514.5h1M383 514.5h7M410 514.5h1M420 514.5h1M422 514.5h1M482 514.5h1M501 514.5h6M510 514.5h1M519 514.5h1M549 514.5h2M685 514.5h1M739 514.5h4M748 514.5h2M798 514.5h1M808 514.5h3M860 514.5h1M874 514.5h2M885 514.5h2M890 514.5h1M897 514.5h3M907 514.5h1M38 515.5h2M43 515.5h3M214 515.5h1M340 515.5h1M344 515.5h16M363 515.5h1M411 515.5h1M419 515.5h1M422 515.5h1M454 515.5h2M482 515.5h1M507 515.5h3M520 515.5h1M536 515.5h3M548 515.5h1M551 515.5h3M676 515.5h2M683 515.5h2M686 515.5h1M737 515.5h2M750 515.5h2M798 515.5h1M811 515.5h3M860 515.5h1M876 515.5h1M884 515.5h1M887 515.5h3M908 515.5h1M40 516.5h3M46 516.5h1M209 516.5h5M340 516.5h1M342 516.5h2M360 516.5h1M362 516.5h1M412 516.5h1M418 516.5h1M423 516.5h1M453 516.5h1M456 516.5h3M481 516.5h1M520 516.5h1M534 516.5h2M539 516.5h3M547 516.5h1M554 516.5h1M674 516.5h2M678 516.5h2M682 516.5h1M687 516.5h1M721 516.5h6M735 516.5h2M752 516.5h5M781 516.5h1M791 516.5h7M814 516.5h1M860 516.5h1M877 516.5h1M883 516.5h1M909 516.5h1M47 517.5h1M207 517.5h2M341 517.5h1M361 517.5h1M413 517.5h5M424 517.5h1M428 517.5h2M452 517.5h1M459 517.5h1M481 517.5h1M521 517.5h1M529 517.5h5M542 517.5h2M546 517.5h1M554 517.5h1M637 517.5h1M665 517.5h2M671 517.5h3M680 517.5h2M688 517.5h1M721 517.5h1M727 517.5h4M733 517.5h2M757 517.5h8M780 517.5h1M782 517.5h1M789 517.5h2M815 517.5h1M860 517.5h1M878 517.5h2M882 517.5h1M910 517.5h1M47 518.5h1M206 518.5h1M424 518.5h1M426 518.5h2M430 518.5h2M451 518.5h1M460 518.5h2M480 518.5h1M522 518.5h1M528 518.5h1M544 518.5h2M555 518.5h1M605 518.5h1M636 518.5h1M638 518.5h2M664 518.5h1M667 518.5h4M689 518.5h1M720 518.5h1M731 518.5h2M765 518.5h9M779 518.5h1M783 518.5h1M788 518.5h1M815 518.5h1M859 518.5h1M880 518.5h2M910 518.5h1M48 519.5h1M95 519.5h3M193 519.5h1M205 519.5h1M425 519.5h1M432 519.5h2M450 519.5h1M462 519.5h1M480 519.5h1M523 519.5h1M527 519.5h1M556 519.5h1M560 519.5h6M604 519.5h1M606 519.5h2M611 519.5h4M619 519.5h7M635 519.5h1M640 519.5h2M652 519.5h2M663 519.5h1M690 519.5h1M720 519.5h1M774 519.5h2M778 519.5h1M783 519.5h1M787 519.5h1M816 519.5h1M859 519.5h1M911 519.5h1M49 520.5h2M93 520.5h2M98 520.5h1M117 520.5h2M192 520.5h1M194 520.5h2M203 520.5h2M434 520.5h2M449 520.5h1M463 520.5h2M479 520.5h1M523 520.5h1M527 520.5h1M556 520.5h1M558 520.5h2M566 520.5h2M603 520.5h1M608 520.5h3M615 520.5h4M626 520.5h2M634 520.5h1M642 520.5h2M650 520.5h2M654 520.5h1M662 520.5h1M691 520.5h1M703 520.5h6M720 520.5h1M776 520.5h2M784 520.5h1M786 520.5h1M817 520.5h2M833 520.5h1M859 520.5h1M912 520.5h1M51 521.5h3M92 521.5h1M99 521.5h1M116 521.5h1M119 521.5h3M137 521.5h2M143 521.5h2M181 521.5h2M191 521.5h1M196 521.5h3M202 521.5h1M436 521.5h6M448 521.5h1M465 521.5h6M479 521.5h1M524 521.5h1M526 521.5h1M557 521.5h1M568 521.5h2M603 521.5h1M628 521.5h6M644 521.5h6M655 521.5h2M659 521.5h3M692 521.5h1M700 521.5h3M709 521.5h1M719 521.5h1M785 521.5h1M819 521.5h3M832 521.5h1M834 521.5h2M858 521.5h1M912 521.5h1M54 522.5h2M59 522.5h4M91 522.5h1M99 522.5h1M116 522.5h1M122 522.5h2M127 522.5h3M136 522.5h1M139 522.5h4M145 522.5h1M180 522.5h1M183 522.5h4M190 522.5h1M199 522.5h3M442 522.5h1M447 522.5h1M471 522.5h2M478 522.5h1M525 522.5h1M570 522.5h1M597 522.5h2M602 522.5h1M657 522.5h2M693 522.5h1M696 522.5h4M710 522.5h2M719 522.5h1M822 522.5h2M831 522.5h1M836 522.5h2M858 522.5h1M913 522.5h1M56 523.5h3M63 523.5h3M73 523.5h1M85 523.5h2M90 523.5h1M100 523.5h1M115 523.5h1M124 523.5h3M130 523.5h1M135 523.5h1M146 523.5h2M179 523.5h1M187 523.5h3M443 523.5h2M446 523.5h1M473 523.5h2M478 523.5h1M570 523.5h1M596 523.5h1M599 523.5h3M694 523.5h2M712 523.5h1M719 523.5h1M824 523.5h2M831 523.5h1M838 523.5h2M858 523.5h1M914 523.5h2M66 524.5h1M71 524.5h2M74 524.5h2M84 524.5h1M87 524.5h3M101 524.5h1M114 524.5h1M131 524.5h2M134 524.5h1M148 524.5h1M178 524.5h1M445 524.5h1M475 524.5h3M571 524.5h1M579 524.5h3M595 524.5h1M713 524.5h1M718 524.5h1M826 524.5h2M830 524.5h1M840 524.5h2M858 524.5h1M916 524.5h2M920 524.5h3M67 525.5h2M70 525.5h1M76 525.5h2M83 525.5h1M102 525.5h1M114 525.5h1M133 525.5h1M149 525.5h5M175 525.5h3M477 525.5h1M571 525.5h1M577 525.5h2M582 525.5h2M595 525.5h1M714 525.5h1M718 525.5h1M828 525.5h2M842 525.5h2M857 525.5h1M918 525.5h2M923 525.5h2M69 526.5h1M78 526.5h2M82 526.5h1M102 526.5h1M113 526.5h1M154 526.5h1M173 526.5h2M572 526.5h1M576 526.5h1M584 526.5h8M594 526.5h1M715 526.5h1M718 526.5h1M844 526.5h2M857 526.5h1M80 527.5h2M103 527.5h1M111 527.5h2M155 527.5h2M172 527.5h1M572 527.5h1M575 527.5h1M592 527.5h2M716 527.5h2M846 527.5h2M855 527.5h2M103 528.5h1M110 528.5h1M157 528.5h1M171 528.5h1M573 528.5h2M717 528.5h1M848 528.5h3M853 528.5h2M104 529.5h1M108 529.5h2M158 529.5h2M170 529.5h1M573 529.5h1M851 529.5h2M104 530.5h1M106 530.5h2M160 530.5h2M168 530.5h2M105 531.5h1M162 531.5h2M166 531.5h2M164 532.5h2" fill="none" stroke="#1e90ff" stroke-width="1"/>
</g>
<rect x="4" y="26" width="1164" height="1" fill="#000"/>
<rect x="4" y="405" width="1164" height="1" fill="#000"/>
<rect x="4" y="26" width="1" height="380" fill="#000"/>
<rect x="1167" y="26" width="1" height="380" fill="#000"/>
<rect x="4" y="407" width="1164" height="1" fill="#000"/>
<rect x="4" y="476" width="1164" height="1" fill="#000"/>
<rect x="4" y="407" width="1" height="70" fill="#000"/>
<rect x="1167" y="407" width="1" height="70" fill="#000"/>
<rect x="4" y="478" width="1164" height="1" fill="#000"/>
<rect x="4" y="550" width="1164" height="1" fill="#000"/>
<rect x="4" y="478" width="1" height="73" fill="#000"/>
<rect x="1167" y="478" width="1" height="73" fill="#000"/>
<rect x="4" y="127" width="6" height="6" fill="#ff0000"/>
<rect x="6" y="129" width="2" height="2" fill="#ffffff"/>
<rect x="1161" y="127" width="6" height="6" fill="#ff0000"/>
<rect x="1163" y="129" width="2" height="2" fill="#ffffff"/>
<rect x="4" y="213" width="6" height="6" fill="#ff0000"/>
<rect x="6" y="215" width="2" height="2" fill="#ffffff"/>
<rect x="1161" y="213" width="6" height="6" fill="#ff0000"/>
<rect x="1163" y="215" width="2" height="2" fill="#ffffff"/>
<rect x="4" y="271" width="6" height="6" fill="#ff0000"/>
<rect x="6" y="273" width="2" height="2" fill="#ffffff"/>
<rect x="1161" y="271" width="6" height="6" fill="#ff0000"/>
<rect x="1163" y="273" width="2" height="2" fill="#ffffff"/>
<rect x="4" y="330" width="6" height="6" fill="#00ff00"/>
<rect x="6" y="332" width="2" height="2" fill="#ffffff"/>
<rect x="1161" y="330" width="6" height="6" fill="#00ff00"/>
<rect x="1163" y="332" width="2" height="2" fill="#ffffff"/>
<rect x="4" y="388" width="6" height="6" fill="#0000ff"/>
<rect x="6" y="390" width="2" height="2" fill="#ffffff"/>
<rect x="1161" y="388" width="6" height="6" fill="#0000ff"/>
<rect x="1163" y="390" width="2" height="2" fill="#ffffff"/>
<rect x="1168" y="39" width="2" height="1" fill="#000"/>
<text x="1173" y="43" font-size="10.2" fill="#000" textLength="33" lengthAdjust="spacingAndGlyphs" stroke="#000" stroke-width="0.25">6.59115</text>
<rect x="1168" y="72" width="2" height="1" fill="#000"/>
<text x="1173" y="76" font-size="10.2" fill="#000" textLength="33" lengthAdjust="spacingAndGlyphs" stroke="#000" stroke-width="0.25">6.56565</text>
<rect x="1168" y="105" width="2" height="1" fill="#000"/>
<text x="1173" y="109" font-size="10.2" fill="#000" textLength="33" lengthAdjust="spacingAndGlyphs" stroke="#000" stroke-width="0.25">6.54015</text>
<rect x="1168" y="138" width="2" height="1" fill="#000"/>
<text x="1173" y="142" font-size="10.2" fill="#000" textLength="33" lengthAdjust="spacingAndGlyphs" stroke="#000" stroke-width="0.25">6.51540</text>
<rect x="1168" y="171" width="2" height="1" fill="#000"/>
<text x="1173" y="175" font-size="10.2" fill="#000" textLength="33" lengthAdjust="spacingAndGlyphs" stroke="#000" stroke-width="0.25">6.48990</text>
<rect x="1168" y="204" width="2" height="1" fill="#000"/>
<text x="1173" y="208" font-size="10.2" fill="#000" textLength="33" lengthAdjust="spacingAndGlyphs" stroke="#000" stroke-width="0.25">6.46440</text>
<rect x="1168" y="237" width="2" height="1" fill="#000"/>
<text x="1173" y="241" font-size="10.2" fill="#000" textLength="33" lengthAdjust="spacingAndGlyphs" stroke="#000" stroke-width="0.25">6.43890</text>
<rect x="1168" y="270" width="2" height="1" fill="#000"/>
<text x="1173" y="274" font-size="10.2" fill="#000" textLength="33" lengthAdjust="spacingAndGlyphs" stroke="#000" stroke-width="0.25">6.41340</text>
<rect x="1168" y="303" width="2" height="1" fill="#000"/>
<text x="1173" y="307" font-size="10.2" fill="#000" textLength="33" lengthAdjust="spacingAndGlyphs" stroke="#000" stroke-width="0.25">6.38790</text>
<rect x="1168" y="336" width="2" height="1" fill="#000"/>
<text x="1173" y="340" font-size="10.2" fill="#000" textLength="33" lengthAdjust="spacingAndGlyphs" stroke="#000" stroke-width="0.25">6.36240</text>
<rect x="1168" y="369" width="2" height="1" fill="#000"/>
<text x="1173" y="373" font-size="10.2" fill="#000" textLength="33" lengthAdjust="spacingAndGlyphs" stroke="#000" stroke-width="0.25">6.33690</text>
<rect x="1168" y="402" width="2" height="1" fill="#000"/>
<text x="1173" y="406" font-size="10.2" fill="#000" textLength="33" lengthAdjust="spacingAndGlyphs" stroke="#000" stroke-width="0.25">6.31215</text>
<rect x="1169" y="381" width="36" height="11" fill="#000"/>
<text x="1173" y="390.5" font-size="10.2" fill="#fff" textLength="33" lengthAdjust="spacingAndGlyphs" stroke="#fff" stroke-width="0.25">6.32445</text>
<rect x="1169" y="124" width="36" height="11" fill="#ff0000"/>
<text x="1173" y="133.5" font-size="10.2" fill="#fff" textLength="33" lengthAdjust="spacingAndGlyphs" stroke="#fff" stroke-width="0.25">6.52126</text>
<rect x="1169" y="210" width="36" height="11" fill="#ff0000"/>
<text x="1173" y="219.5" font-size="10.2" fill="#fff" textLength="33" lengthAdjust="spacingAndGlyphs" stroke="#fff" stroke-width="0.25">6.45500</text>
<rect x="1169" y="268" width="36" height="11" fill="#ff0000"/>
<text x="1173" y="277.5" font-size="10.2" fill="#fff" textLength="33" lengthAdjust="spacingAndGlyphs" stroke="#fff" stroke-width="0.25">6.41065</text>
<rect x="1169" y="327" width="36" height="11" fill="#00ff00"/>
<text x="1173" y="336.5" font-size="10.2" fill="#fff" textLength="33" lengthAdjust="spacingAndGlyphs" stroke="#fff" stroke-width="0.25">6.36476</text>
<rect x="1169" y="385" width="36" height="11" fill="#0000ff"/>
<text x="1173" y="394.5" font-size="10.2" fill="#fff" textLength="33" lengthAdjust="spacingAndGlyphs" stroke="#fff" stroke-width="0.25">6.32041</text>
<rect x="1168" y="409" width="2" height="1" fill="#000"/>
<text x="1171.5" y="418" font-size="10.2" fill="#000" textLength="33" lengthAdjust="spacingAndGlyphs" stroke="#000" stroke-width="0.25">0.02607</text>
<rect x="1168" y="439" width="2" height="1" fill="#000"/>
<text x="1171.5" y="443" font-size="10.2" fill="#000" textLength="18" lengthAdjust="spacingAndGlyphs" stroke="#000" stroke-width="0.25">0.00</text>
<rect x="1168" y="475" width="2" height="1" fill="#000"/>
<text x="1171.5" y="473.5" font-size="10.2" fill="#000" textLength="36" lengthAdjust="spacingAndGlyphs" stroke="#000" stroke-width="0.25">-0.03187</text>
<rect x="1168" y="480" width="2" height="1" fill="#000"/>
<text x="1171.5" y="489" font-size="10.2" fill="#000" textLength="14.5" lengthAdjust="spacingAndGlyphs" stroke="#000" stroke-width="0.25">100</text>
<text x="1170.5" y="504" font-size="10.2" fill="#000" textLength="10" lengthAdjust="spacingAndGlyphs" stroke="#000" stroke-width="0.25">70</text>
<text x="1170.5" y="532" font-size="10.2" fill="#000" textLength="10" lengthAdjust="spacingAndGlyphs" stroke="#000" stroke-width="0.25">30</text>
<rect x="1168" y="549" width="2" height="1" fill="#000"/>
<text x="1171.5" y="547" font-size="10.2" fill="#000" textLength="5" lengthAdjust="spacingAndGlyphs" stroke="#000" stroke-width="0.25">0</text>
<rect x="11" y="33" width="1" height="1" fill="#000"/>
<rect x="10" y="34" width="3" height="1" fill="#000"/>
<rect x="9" y="35" width="5" height="1" fill="#000"/>
<rect x="8" y="36" width="7" height="1" fill="#000"/>
<text x="20.5" y="38" font-size="10.2" fill="#000" textLength="67.5" lengthAdjust="spacingAndGlyphs" stroke="#000" stroke-width="0.25">USDCNH-,Daily</text>
<text x="95" y="38" font-size="10.2" fill="#000" textLength="141" lengthAdjust="spacingAndGlyphs" stroke="#000" stroke-width="0.25">6.33288 6.33481 6.31670 6.32445</text>
<text x="9" y="490.5" font-size="10.2" fill="#000" textLength="67.5" lengthAdjust="spacingAndGlyphs" stroke="#000" stroke-width="0.25">RSI(14) 33.6388</text>
<rect x="5" y="551" width="1" height="3" fill="#000"/>
<text x="4.8" y="563" font-size="10.2" fill="#000" textLength="45" lengthAdjust="spacingAndGlyphs" stroke="#000" stroke-width="0.25">1 Apr 2021</text>
<rect x="69" y="551" width="1" height="3" fill="#000"/>
<text x="68.8" y="563" font-size="10.2" fill="#000" textLength="51" lengthAdjust="spacingAndGlyphs" stroke="#000" stroke-width="0.25">26 Apr 2021</text>
<rect x="133" y="551" width="1" height="3" fill="#000"/>
<text x="132.8" y="563" font-size="10.2" fill="#000" textLength="54" lengthAdjust="spacingAndGlyphs" stroke="#000" stroke-width="0.25">18 May 2021</text>
<rect x="197" y="551" width="1" height="3" fill="#000"/>
<text x="196.8" y="563" font-size="10.2" fill="#000" textLength="44" lengthAdjust="spacingAndGlyphs" stroke="#000" stroke-width="0.25">9 Jun 2021</text>
<rect x="261" y="551" width="1" height="3" fill="#000"/>
<text x="260.8" y="563" font-size="10.2" fill="#000" textLength="41" lengthAdjust="spacingAndGlyphs" stroke="#000" stroke-width="0.25">1 Jul 2021</text>
<rect x="325" y="551" width="1" height="3" fill="#000"/>
<text x="324.8" y="563" font-size="10.2" fill="#000" textLength="46" lengthAdjust="spacingAndGlyphs" stroke="#000" stroke-width="0.25">23 Jul 2021</text>
<rect x="389" y="551" width="1" height="3" fill="#000"/>
<text x="388.8" y="563" font-size="10.2" fill="#000" textLength="51" lengthAdjust="spacingAndGlyphs" stroke="#000" stroke-width="0.25">16 Aug 2021</text>
<rect x="453" y="551" width="1" height="3" fill="#000"/>
<text x="452.8" y="563" font-size="10.2" fill="#000" textLength="45.5" lengthAdjust="spacingAndGlyphs" stroke="#000" stroke-width="0.25">7 Sep 2021</text>
<rect x="517" y="551" width="1" height="3" fill="#000"/>
<text x="516.8" y="563" font-size="10.2" fill="#000" textLength="50.5" lengthAdjust="spacingAndGlyphs" stroke="#000" stroke-width="0.25">29 Sep 2021</text>
<rect x="581" y="551" width="1" height="3" fill="#000"/>
<text x="580.8" y="563" font-size="10.2" fill="#000" textLength="50" lengthAdjust="spacingAndGlyphs" stroke="#000" stroke-width="0.25">21 Oct 2021</text>
<rect x="645" y="551" width="1" height="3" fill="#000"/>
<text x="644.8" y="563" font-size="10.2" fill="#000" textLength="53" lengthAdjust="spacingAndGlyphs" stroke="#000" stroke-width="0.25">12 Nov 2021</text>
<rect x="709" y="551" width="1" height="3" fill="#000"/>
<text x="708.8" y="563" font-size="10.2" fill="#000" textLength="45.5" lengthAdjust="spacingAndGlyphs" stroke="#000" stroke-width="0.25">6 Dec 2021</text>
<rect x="773" y="551" width="1" height="3" fill="#000"/>
<text x="772.8" y="563" font-size="10.2" fill="#000" textLength="50.5" lengthAdjust="spacingAndGlyphs" stroke="#000" stroke-width="0.25">28 Dec 2021</text>
<rect x="837" y="551" width="1" height="3" fill="#000"/>
<text x="836.8" y="563" font-size="10.2" fill="#000" textLength="49.5" lengthAdjust="spacingAndGlyphs" stroke="#000" stroke-width="0.25">19 Jan 2022</text>
<rect x="901" y="551" width="1" height="3" fill="#000"/>
<text x="900.8" y="563" font-size="10.2" fill="#000" textLength="49.5" lengthAdjust="spacingAndGlyphs" stroke="#000" stroke-width="0.25">10 Feb 2022</text>
<rect x="8" y="46" width="52" height="25" fill="url(#gs)"/>
<rect x="8" y="70" width="109" height="33" fill="url(#gp)"/>
<rect x="119" y="70" width="108" height="33" fill="url(#gp)"/>
<rect x="175" y="46" width="52" height="25" fill="url(#gs)"/>
<rect x="8" y="46" width="52" height="1" fill="#b01010"/>
<rect x="8" y="46" width="1" height="57" fill="#b01010"/>
<rect x="59" y="46" width="1" height="24" fill="#b01010"/>
<rect x="8" y="102" width="109" height="1" fill="#b01010"/>
<rect x="116" y="70" width="1" height="33" fill="#b01010"/>
<rect x="60" y="70" width="57" height="1" fill="#b01010"/>
<rect x="175" y="46" width="52" height="1" fill="#b01010"/>
<rect x="226" y="46" width="1" height="57" fill="#b01010"/>
<rect x="175" y="46" width="1" height="24" fill="#b01010"/>
<rect x="119" y="102" width="108" height="1" fill="#b01010"/>
<rect x="119" y="70" width="1" height="33" fill="#b01010"/>
<rect x="119" y="70" width="56" height="1" fill="#b01010"/>
<rect x="12" y="69" width="44" height="1" fill="#9a0000"/>
<rect x="12" y="70" width="44" height="1" fill="#ee5a5a"/>
<rect x="179" y="69" width="44" height="1" fill="#9a0000"/>
<rect x="179" y="70" width="44" height="1" fill="#ee5a5a"/>
<text x="20.5" y="62" font-size="12.5" fill="#fff" textLength="25.5" lengthAdjust="spacingAndGlyphs">SELL</text>
<text x="188.5" y="62" font-size="12.5" fill="#fff" textLength="23" lengthAdjust="spacingAndGlyphs">BUY</text>
<rect x="60" y="46" width="115" height="24" fill="#ffffff"/>
<rect x="62" y="46" width="111" height="1" fill="#a9adb5"/>
<rect x="62" y="67" width="111" height="1" fill="#a9adb5"/>
<rect x="62" y="46" width="1" height="22" fill="#a9adb5"/>
<rect x="172" y="46" width="1" height="22" fill="#a9adb5"/>
<rect x="83" y="46" width="1" height="22" fill="#a9adb5"/>
<rect x="151" y="46" width="1" height="22" fill="#a9adb5"/>
<rect x="64" y="48" width="18" height="18" fill="url(#gb)"/>
<rect x="153" y="48" width="18" height="18" fill="url(#gb)"/>
<rect x="70" y="55" width="5" height="1" fill="#566cca"/>
<rect x="71" y="56" width="3" height="1" fill="#4058b4"/>
<rect x="72" y="57" width="1" height="1" fill="#34448c"/>
<rect x="161" y="55" width="1" height="1" fill="#34448c"/>
<rect x="160" y="56" width="3" height="1" fill="#4058b4"/>
<rect x="159" y="57" width="5" height="1" fill="#566cca"/>
<text x="147.5" y="61" font-size="12" fill="#000" textLength="23" lengthAdjust="spacingAndGlyphs" text-anchor="end">3.00</text>
<text x="28" y="97.5" font-size="12" fill="#fff" textLength="23.5" lengthAdjust="spacingAndGlyphs" font-weight="bold">6.32</text>
<text x="54.3" y="98.2" font-size="34.8" fill="#fff" textLength="36.5" lengthAdjust="spacingAndGlyphs" stroke="url(#gpu)" stroke-width="0.35">44</text>
<text x="95.4" y="81.8" font-size="12" fill="#fff" textLength="6.4" lengthAdjust="spacingAndGlyphs" font-weight="bold">5</text>
<text x="138" y="97.5" font-size="12" fill="#fff" textLength="23.5" lengthAdjust="spacingAndGlyphs" font-weight="bold">6.32</text>
<text x="166.5" y="98.2" font-size="34.8" fill="#fff" textLength="34.5" lengthAdjust="spacingAndGlyphs" stroke="url(#gpu)" stroke-width="0.35">63</text>
<text x="205.8" y="81.8" font-size="12" fill="#fff" textLength="6.9" lengthAdjust="spacingAndGlyphs" font-weight="bold">9</text>
<text x="17.4" y="588" font-size="13" fill="#6e6e6e" textLength="77.2" lengthAdjust="spacingAndGlyphs">USDX,Weekly</text>
<text x="117.5" y="588" font-size="13" fill="#6e6e6e" textLength="84.5" lengthAdjust="spacingAndGlyphs">EURUSD-,Daily</text>
<text x="224.4" y="588" font-size="13" fill="#6e6e6e" textLength="86.3" lengthAdjust="spacingAndGlyphs">AUDUSD-,Daily</text>
<text x="334.4" y="588" font-size="13" fill="#6e6e6e" textLength="83.4" lengthAdjust="spacingAndGlyphs">USDCHF-,Daily</text>
<text x="441.4" y="588" font-size="13" fill="#6e6e6e" textLength="85.5" lengthAdjust="spacingAndGlyphs">USDCAD-,Daily</text>
<text x="661.2" y="588" font-size="13" fill="#6e6e6e" textLength="73.3" lengthAdjust="spacingAndGlyphs">XAUUSD-,H1</text>
<text x="757.4" y="588" font-size="13" fill="#6e6e6e" textLength="68.6" lengthAdjust="spacingAndGlyphs">UKOil-,Daily</text>
<text x="850.5" y="588" font-size="13" fill="#6e6e6e" textLength="63.2" lengthAdjust="spacingAndGlyphs">DJ30-,Daily</text>
<text x="937.3" y="588" font-size="13" fill="#6e6e6e" textLength="60.7" lengthAdjust="spacingAndGlyphs">UK100-,H1</text>
<rect x="106" y="576" width="1" height="14" fill="#707070"/>
<rect x="214" y="576" width="1" height="14" fill="#707070"/>
<rect x="322" y="576" width="1" height="14" fill="#707070"/>
<rect x="430" y="576" width="1" height="14" fill="#707070"/>
<rect x="746" y="576" width="1" height="14" fill="#707070"/>
<rect x="838" y="576" width="1" height="14" fill="#707070"/>
<rect x="926" y="576" width="1" height="14" fill="#707070"/>
<rect x="1010" y="576" width="1" height="14" fill="#707070"/>
<rect x="538" y="573" width="112" height="19" fill="#ffffff"/>
<rect x="538" y="573" width="1" height="19" fill="#000"/>
<rect x="649" y="573" width="1" height="19" fill="#000"/>
<rect x="538" y="591" width="112" height="1" fill="#000"/>
<text x="550.2" y="588" font-size="13" fill="#000" textLength="87.3" lengthAdjust="spacingAndGlyphs">USDCNH-,Daily</text>
<polygon points="1186,579 1186,585.5 1182.5,582.2" fill="#909090" shape-rendering="auto"/>
<polygon points="1202,579 1202,585.5 1205.5,582.2" fill="#909090" shape-rendering="auto"/>
</svg>
</body></html>
